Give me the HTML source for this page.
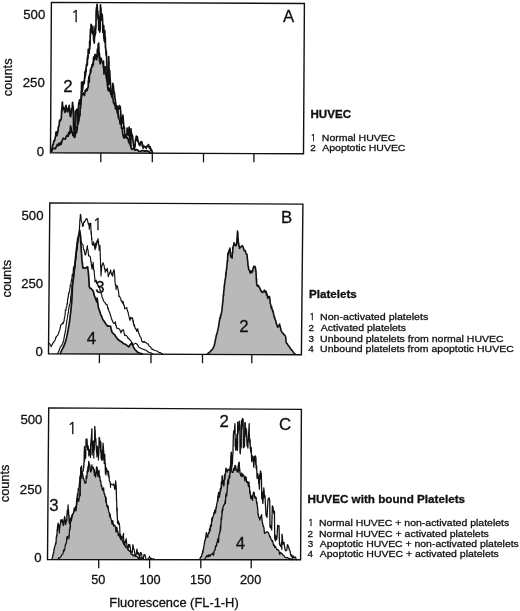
<!DOCTYPE html>
<html><head><meta charset="utf-8"><style>
html,body{margin:0;padding:0;background:#fff;}
svg{display:block;}
text{font-family:"Liberation Sans",Arial,sans-serif;fill:#111;stroke:#111;stroke-width:0.3px;}
</style></head><body>
<svg width="520" height="611" viewBox="0 0 520 611">
<path d="M51.10,151.50 L51.45,151.14 L51.80,150.24 L52.15,147.96 L52.50,146.02 L52.85,144.47 L53.20,144.33 L53.55,142.19 L53.90,140.65 L54.25,141.32 L54.60,140.18 L54.95,139.59 L55.30,136.83 L55.52,136.63 L55.74,135.26 L55.96,132.15 L56.18,133.48 L56.40,131.92 L56.90,135.66 L57.40,133.86 L57.58,132.18 L57.77,132.77 L57.95,130.17 L58.13,129.92 L58.32,126.92 L58.50,126.51 L58.77,126.62 L59.03,125.09 L59.30,123.19 L59.57,120.30 L59.83,121.55 L60.10,119.92 L60.65,120.13 L61.20,118.54 L61.28,118.74 L61.37,115.72 L61.45,114.93 L61.53,114.50 L61.62,110.38 L61.70,110.32 L61.78,108.94 L61.87,112.03 L61.95,107.24 L62.03,107.35 L62.12,106.10 L62.20,103.29 L62.42,102.09 L62.64,107.63 L62.86,106.27 L63.08,109.29 L63.30,106.85 L64.10,108.90 L64.90,112.34 L65.27,111.79 L65.63,106.21 L66.00,105.27 L66.40,108.45 L66.80,110.70 L67.20,110.65 L67.60,111.81 L67.97,108.41 L68.35,109.91 L68.72,109.65 L69.10,105.73 L69.24,105.26 L69.38,107.72 L69.51,111.59 L69.65,108.63 L69.79,112.66 L69.92,112.44 L70.06,115.12 L70.20,116.21 L70.47,115.38 L70.73,116.57 L71.00,113.55 L71.27,113.85 L71.53,110.11 L71.80,108.27 L72.17,108.89 L72.53,102.41 L72.90,106.43 L73.07,107.93 L73.23,106.67 L73.40,110.74 L73.57,110.15 L73.73,108.13 L73.90,113.05 L74.43,111.07 L74.97,111.13 L75.50,111.04 L76.03,112.69 L76.57,110.01 L77.10,109.05 L77.50,108.73 L77.90,103.82 L78.30,108.15 L78.70,102.98 L79.02,104.63 L79.34,100.73 L79.66,99.93 L79.98,99.93 L80.30,103.13 L80.85,99.81 L81.40,96.26 L81.73,95.72 L82.07,92.92 L82.40,93.93 L83.45,92.89 L84.50,95.40 L85.25,90.36 L86.00,91.34 L86.40,89.34 L86.80,88.57 L87.20,90.42 L87.60,88.25 L87.80,87.94 L88.00,87.93 L88.20,86.62 L88.40,80.16 L88.60,82.87 L88.80,76.80 L89.00,79.16 L89.20,82.19 L89.40,76.48 L89.60,74.90 L89.80,74.87 L90.03,73.46 L90.27,72.39 L90.50,69.58 L90.73,72.57 L90.97,71.07 L91.20,67.52 L91.42,67.61 L91.65,67.29 L91.88,67.05 L92.10,64.50 L92.50,66.38 L92.90,65.40 L93.01,62.31 L93.12,62.36 L93.24,64.60 L93.35,63.27 L93.46,60.09 L93.58,57.17 L93.69,57.98 L93.80,59.94 L94.07,60.39 L94.33,56.80 L94.60,59.50 L94.88,54.97 L95.15,54.47 L95.42,56.37 L95.70,54.76 L96.20,57.99 L96.70,59.69 L96.89,57.45 L97.08,57.39 L97.27,51.70 L97.46,49.06 L97.65,51.76 L97.84,55.85 L98.03,48.96 L98.22,44.03 L98.41,46.23 L98.60,47.94 L98.69,43.05 L98.78,48.80 L98.87,46.53 L98.96,52.34 L99.05,52.35 L99.15,52.39 L99.24,57.67 L99.33,53.10 L99.42,53.65 L99.51,60.88 L99.60,55.64 L100.10,63.82 L100.60,59.54 L101.10,58.19 L101.80,61.30 L102.27,62.50 L102.73,63.56 L103.20,63.56 L103.35,67.66 L103.50,61.15 L103.65,66.35 L103.80,68.21 L103.95,74.04 L104.10,66.80 L104.53,69.55 L104.97,66.85 L105.40,67.01 L105.55,71.13 L105.70,71.81 L105.85,75.27 L106.00,71.99 L106.15,75.08 L106.30,78.23 L106.53,78.76 L106.75,77.23 L106.97,81.47 L107.20,78.25 L107.30,85.06 L107.40,82.68 L107.50,83.21 L107.60,85.08 L107.70,87.33 L108.13,90.33 L108.57,87.71 L109.00,88.47 L109.45,91.27 L109.90,89.28 L110.35,88.57 L110.80,94.43 L111.27,92.96 L111.73,96.77 L112.20,93.53 L112.53,91.12 L112.85,98.28 L113.17,99.17 L113.50,102.97 L113.78,102.07 L114.06,102.77 L114.34,104.36 L114.62,103.74 L114.90,105.64 L115.20,104.28 L115.50,108.74 L115.80,107.61 L116.60,109.14 L117.40,111.99 L117.70,113.54 L118.00,111.53 L118.30,117.69 L118.60,114.64 L118.90,118.14 L119.20,119.51 L119.48,119.43 L119.76,120.43 L120.04,123.99 L120.32,123.66 L120.60,124.06 L120.92,121.85 L121.25,124.57 L121.58,128.43 L121.90,128.17 L122.10,127.74 L122.30,129.34 L122.50,130.96 L122.70,133.43 L122.90,134.18 L123.10,136.09 L123.30,135.00 L123.95,138.09 L124.60,137.21 L125.50,136.54 L126.40,138.13 L126.85,136.99 L127.30,137.64 L127.75,138.46 L128.20,139.16 L128.65,142.23 L129.10,142.89 L129.55,143.06 L130.00,143.39 L130.28,145.32 L130.56,145.29 L130.84,146.85 L131.12,147.87 L131.40,148.67 L132.13,149.41 L132.87,148.94 L133.60,148.00 L134.20,146.04 L134.80,150.12 L135.40,150.05 L136.60,149.49 L137.80,150.15 L139.00,151.27 L140.12,151.30 L141.25,151.08 L142.38,150.60 L143.50,150.52 L144.62,151.26 L145.75,150.90 L146.88,150.68 L148.00,151.09 L148.90,151.82 L149.80,152.45 L150.70,153.20 L151.60,153.30 L151.60,153.50 L51.10,153.10 Z" fill="#b9b9b9"/>
<path d="M59.90,354.10 L60.38,353.13 L60.85,352.02 L61.32,351.04 L61.80,350.01 L62.40,348.99 L63.00,347.76 L63.60,346.77 L64.05,345.59 L64.50,344.40 L64.95,343.27 L65.40,342.15 L65.68,341.07 L65.96,339.90 L66.24,338.95 L66.52,337.73 L66.80,336.30 L67.03,335.64 L67.27,334.21 L67.50,332.95 L67.73,331.87 L67.97,330.65 L68.20,329.41 L68.40,328.08 L68.60,327.06 L68.80,325.60 L69.00,324.89 L69.20,323.26 L69.40,322.25 L69.60,321.10 L69.75,319.92 L69.90,318.62 L70.05,317.54 L70.20,315.57 L70.35,314.97 L70.50,313.75 L70.63,312.51 L70.76,311.70 L70.89,310.02 L71.01,309.01 L71.14,307.43 L71.27,306.72 L71.40,305.13 L71.50,304.04 L71.60,303.78 L71.70,302.32 L71.80,301.07 L71.90,300.01 L71.95,298.37 L72.01,297.19 L72.06,296.25 L72.12,294.39 L72.17,293.67 L72.23,291.92 L72.28,291.09 L72.34,289.52 L72.39,288.94 L72.45,287.49 L72.50,285.84 L72.65,284.26 L72.79,283.31 L72.94,282.26 L73.08,280.79 L73.23,279.89 L73.38,278.84 L73.52,277.34 L73.67,276.00 L73.82,275.10 L73.96,273.58 L74.11,272.66 L74.25,271.11 L74.40,270.41 L74.51,268.65 L74.62,267.18 L74.73,266.27 L74.84,264.82 L74.95,263.49 L75.06,262.49 L75.17,261.50 L75.28,259.40 L75.39,258.79 L75.50,257.52 L75.64,256.30 L75.79,255.37 L75.93,253.51 L76.08,252.89 L76.22,251.40 L76.36,250.28 L76.51,248.96 L76.65,247.71 L76.79,246.43 L76.94,245.51 L77.08,244.83 L77.22,243.28 L77.37,242.00 L77.51,240.68 L77.66,239.13 L77.80,238.26 L78.17,237.62 L78.55,235.39 L78.92,234.97 L79.30,233.91 L79.90,232.56 L80.15,233.73 L80.40,234.93 L80.46,236.43 L80.53,237.35 L80.59,238.69 L80.65,239.48 L80.71,240.87 L80.78,241.88 L80.84,243.15 L80.90,244.13 L80.98,245.72 L81.07,247.19 L81.15,247.91 L81.23,249.26 L81.32,250.60 L81.40,251.64 L81.48,253.14 L81.57,254.16 L81.65,254.96 L81.73,256.23 L81.82,257.98 L81.90,259.17 L82.04,260.57 L82.19,261.57 L82.33,262.82 L82.47,263.56 L82.61,265.67 L82.76,266.27 L82.90,268.08 L83.80,267.64 L84.70,267.94 L85.60,268.33 L86.30,267.64 L87.00,267.03 L87.70,266.94 L87.83,268.08 L87.95,269.20 L88.08,270.20 L88.20,271.27 L88.33,272.56 L88.45,273.75 L88.58,275.09 L88.70,276.50 L88.77,277.43 L88.83,278.44 L88.90,279.67 L88.97,281.34 L89.03,282.23 L89.10,283.42 L89.17,284.61 L89.23,285.87 L89.30,286.93 L89.83,287.89 L90.37,288.50 L90.90,288.31 L91.95,289.51 L93.00,290.81 L93.27,290.86 L93.53,292.26 L93.80,293.55 L94.07,294.37 L94.33,295.74 L94.60,296.21 L95.02,297.28 L95.44,298.58 L95.86,299.52 L96.28,300.50 L96.70,301.92 L96.83,300.66 L96.97,299.40 L97.10,298.11 L97.27,299.48 L97.45,300.62 L97.62,301.72 L97.80,303.21 L97.97,304.40 L98.15,305.57 L98.33,306.92 L98.50,307.77 L98.92,309.11 L99.34,310.18 L99.76,311.68 L100.18,312.66 L100.60,314.10 L101.02,315.12 L101.44,315.87 L101.86,316.86 L102.28,318.27 L102.70,319.25 L103.42,320.32 L104.15,321.22 L104.88,322.55 L105.60,323.53 L106.30,324.50 L107.00,325.42 L107.70,326.16 L108.63,325.95 L109.57,326.26 L110.50,326.20 L110.78,327.36 L111.06,328.73 L111.34,329.71 L111.62,331.08 L111.90,332.03 L112.60,332.80 L113.30,333.47 L114.00,334.21 L114.70,334.63 L115.40,335.99 L116.10,336.91 L116.80,337.83 L117.50,339.07 L118.47,339.74 L119.43,340.54 L120.40,341.18 L121.33,341.84 L122.27,342.33 L123.20,343.37 L124.13,343.81 L125.07,344.21 L126.00,344.64 L126.93,345.44 L127.87,345.99 L128.80,346.86 L129.53,345.83 L130.25,344.76 L130.97,343.91 L131.70,342.94 L132.15,344.14 L132.60,345.14 L133.05,345.99 L133.50,347.05 L134.07,348.06 L134.63,348.92 L135.20,349.74 L136.07,350.59 L136.93,351.52 L137.80,352.35 L138.67,352.68 L139.53,353.03 L140.40,353.31 L141.27,353.58 L142.13,353.88 L143.00,354.20 L143.00,354.41 L59.90,354.05 Z" fill="#b9b9b9"/>
<path d="M207.00,354.10 L207.87,353.48 L208.73,352.99 L209.60,352.06 L210.43,351.51 L211.27,350.42 L212.10,349.54 L212.73,348.99 L213.37,347.51 L214.00,346.39 L214.25,345.51 L214.50,344.54 L214.75,343.05 L215.00,342.16 L215.25,340.48 L215.50,339.58 L215.75,338.44 L216.00,336.95 L216.27,335.76 L216.54,334.59 L216.81,334.09 L217.09,333.02 L217.36,331.85 L217.63,330.93 L217.90,329.14 L218.14,328.48 L218.38,327.37 L218.61,326.38 L218.85,324.24 L219.09,323.20 L219.33,321.00 L219.56,320.58 L219.80,318.30 L220.07,317.65 L220.34,318.07 L220.61,314.94 L220.89,315.70 L221.16,314.31 L221.43,312.80 L221.70,312.20 L221.84,310.97 L221.99,310.05 L222.13,307.91 L222.28,306.38 L222.42,305.09 L222.57,303.53 L222.71,302.92 L222.86,301.11 L223.00,301.19 L223.12,297.74 L223.24,297.03 L223.35,295.86 L223.47,293.70 L223.59,295.52 L223.71,290.87 L223.83,291.27 L223.95,289.80 L224.06,290.29 L224.18,286.05 L224.30,287.28 L224.47,284.52 L224.63,283.74 L224.80,282.03 L224.97,281.88 L225.13,279.09 L225.30,278.73 L225.47,277.84 L225.63,277.89 L225.80,272.86 L225.94,275.22 L226.08,273.56 L226.21,271.11 L226.35,270.68 L226.49,268.82 L226.62,269.63 L226.76,267.15 L226.90,265.60 L227.03,264.32 L227.17,263.08 L227.30,261.83 L227.43,259.88 L227.57,261.47 L227.70,256.32 L227.83,253.37 L227.97,255.54 L228.10,254.25 L228.38,253.62 L228.65,251.89 L228.92,250.80 L229.20,250.14 L229.60,250.19 L230.00,248.14 L230.11,249.37 L230.22,252.88 L230.34,252.59 L230.45,252.21 L230.56,256.68 L230.68,256.27 L230.79,256.07 L230.90,256.65 L232.10,258.09 L232.21,255.72 L232.32,254.23 L232.43,252.72 L232.54,252.25 L232.65,252.62 L232.76,249.80 L232.87,247.49 L232.98,248.41 L233.09,246.53 L233.20,246.08 L233.65,245.31 L234.10,242.72 L234.50,243.88 L234.90,245.12 L235.30,245.12 L235.77,245.87 L236.23,245.48 L236.70,243.08 L236.80,241.38 L236.90,240.09 L237.00,238.26 L237.10,236.96 L237.20,236.13 L237.30,234.38 L237.40,233.55 L237.50,231.03 L237.60,231.89 L237.69,232.82 L237.78,232.77 L237.87,232.79 L237.96,236.56 L238.04,239.03 L238.13,238.31 L238.22,239.85 L238.31,241.03 L238.40,243.59 L238.68,243.09 L238.95,246.23 L239.22,246.03 L239.50,248.46 L240.35,247.23 L241.20,246.66 L242.10,245.67 L243.00,246.79 L243.55,248.38 L244.10,250.48 L244.67,250.82 L245.23,250.63 L245.80,252.51 L246.40,254.24 L247.00,254.25 L247.11,255.10 L247.22,256.29 L247.34,258.61 L247.45,259.48 L247.56,259.18 L247.68,261.59 L247.79,261.90 L247.90,262.78 L248.06,265.84 L248.22,266.59 L248.38,266.30 L248.54,268.21 L248.70,269.76 L249.27,269.85 L249.83,271.46 L250.40,273.30 L251.25,270.78 L252.10,272.40 L252.44,271.76 L252.78,270.52 L253.12,267.80 L253.46,268.32 L253.80,266.19 L254.40,266.94 L255.00,266.37 L255.20,267.22 L255.40,267.53 L255.60,268.91 L255.80,271.46 L256.00,271.08 L256.07,273.57 L256.15,274.81 L256.22,275.33 L256.29,278.92 L256.36,278.10 L256.44,281.13 L256.51,278.76 L256.58,279.80 L256.65,283.78 L256.73,284.71 L256.80,285.14 L257.65,286.16 L258.50,285.44 L259.12,287.34 L259.75,287.86 L260.38,289.37 L261.00,291.11 L261.57,291.28 L262.13,292.36 L262.70,292.35 L263.27,291.72 L263.83,291.32 L264.40,290.17 L265.25,292.26 L266.10,291.41 L266.44,294.60 L266.78,293.38 L267.12,295.98 L267.46,295.59 L267.80,298.45 L268.65,296.85 L269.50,296.60 L269.63,298.13 L269.77,298.36 L269.90,299.33 L270.03,299.89 L270.17,303.51 L270.30,303.40 L270.64,304.50 L270.98,305.92 L271.32,308.33 L271.66,306.80 L272.00,309.17 L272.34,309.74 L272.68,311.35 L273.02,310.82 L273.36,312.74 L273.70,314.54 L273.98,316.11 L274.27,317.26 L274.55,316.88 L274.83,318.57 L275.12,319.60 L275.40,320.00 L275.82,321.09 L276.23,323.46 L276.65,324.29 L277.07,325.19 L277.48,327.03 L277.90,326.98 L278.47,326.65 L279.03,325.24 L279.60,324.07 L279.88,325.50 L280.17,326.46 L280.45,327.64 L280.73,328.77 L281.02,330.73 L281.30,330.75 L281.93,332.24 L282.55,332.89 L283.18,333.29 L283.80,334.66 L284.65,334.77 L285.50,336.50 L285.63,336.78 L285.77,338.03 L285.90,339.48 L286.03,340.78 L286.17,341.91 L286.30,343.01 L286.93,343.48 L287.55,344.09 L288.18,345.42 L288.80,346.19 L289.37,346.67 L289.93,348.02 L290.50,348.65 L291.15,349.23 L291.80,350.39 L292.45,350.90 L293.10,351.85 L293.93,352.99 L294.77,353.72 L295.60,354.80 L295.60,355.07 L207.00,354.69 Z" fill="#b9b9b9"/>
<path d="M52.00,559.50 L52.23,558.35 L52.47,557.48 L52.70,555.60 L52.93,555.15 L53.17,554.54 L53.40,552.90 L53.69,552.90 L53.97,549.28 L54.26,549.10 L54.54,547.11 L54.83,545.85 L55.11,545.35 L55.40,544.65 L55.59,543.75 L55.77,542.72 L55.96,543.66 L56.14,540.88 L56.33,536.71 L56.51,537.80 L56.70,535.61 L56.82,534.62 L56.93,535.87 L57.05,532.76 L57.17,529.33 L57.28,531.24 L57.40,529.30 L57.52,526.96 L57.63,526.18 L57.75,525.47 L57.87,525.20 L57.98,523.51 L58.10,523.10 L58.29,526.77 L58.47,524.15 L58.66,525.29 L58.84,527.22 L59.03,530.22 L59.21,528.89 L59.40,532.93 L59.56,528.03 L59.71,527.20 L59.87,527.36 L60.02,525.03 L60.18,524.18 L60.33,524.51 L60.49,523.73 L60.64,521.66 L60.80,519.89 L61.45,521.60 L62.10,519.50 L62.32,519.67 L62.53,522.92 L62.75,520.94 L62.97,523.60 L63.18,525.43 L63.40,525.58 L63.57,523.60 L63.75,523.76 L63.92,521.29 L64.10,520.02 L64.27,518.21 L64.45,520.50 L64.62,516.55 L64.80,517.96 L64.89,517.93 L64.97,518.12 L65.06,520.66 L65.14,521.23 L65.23,522.18 L65.31,521.16 L65.40,524.40 L65.63,524.47 L65.87,522.78 L66.10,522.41 L66.33,522.04 L66.57,519.33 L66.80,520.58 L66.96,514.13 L67.12,514.88 L67.29,510.18 L67.45,514.18 L67.61,511.87 L67.77,513.22 L67.94,508.79 L68.10,504.95 L68.22,511.47 L68.33,508.55 L68.45,509.91 L68.57,512.86 L68.68,515.33 L68.80,514.82 L68.92,517.12 L69.03,515.24 L69.15,521.87 L69.27,520.43 L69.38,521.94 L69.50,523.85 L69.76,522.17 L70.02,521.13 L70.28,518.38 L70.54,518.51 L70.80,518.26 L71.30,518.18 L71.80,515.42 L72.30,514.74 L72.80,514.12 L73.30,513.47 L73.80,511.87 L74.30,510.13 L74.80,508.69 L75.08,510.24 L75.36,507.86 L75.64,506.35 L75.92,510.93 L76.20,505.65 L76.38,504.58 L76.55,502.40 L76.73,499.43 L76.90,502.01 L77.00,498.83 L77.10,497.96 L77.20,498.51 L77.30,497.38 L77.40,494.93 L77.50,493.43 L77.78,496.01 L78.06,492.29 L78.34,488.41 L78.62,490.49 L78.90,488.37 L79.02,486.97 L79.14,486.95 L79.25,484.95 L79.37,486.99 L79.49,482.52 L79.61,481.42 L79.73,481.91 L79.85,477.52 L79.96,479.28 L80.08,476.08 L80.20,477.23 L81.05,473.40 L81.90,475.79 L82.48,473.15 L83.05,476.47 L83.62,478.48 L84.20,480.52 L85.05,483.25 L85.90,483.00 L86.18,475.96 L86.45,475.88 L86.72,478.50 L87.00,475.83 L87.20,471.26 L87.40,473.62 L87.60,469.40 L87.80,468.75 L88.00,466.82 L88.20,467.60 L88.30,471.34 L88.40,466.56 L88.50,464.47 L88.60,468.50 L88.70,461.49 L89.10,463.24 L89.50,464.15 L89.90,466.62 L90.08,466.35 L90.27,470.92 L90.45,468.69 L90.63,471.48 L90.82,471.98 L91.00,471.07 L91.30,469.69 L91.60,470.30 L91.90,464.83 L92.20,468.13 L92.75,467.70 L93.30,467.28 L93.50,467.99 L93.70,469.95 L93.90,469.73 L94.10,472.76 L94.30,469.57 L94.50,475.53 L95.05,473.29 L95.60,477.01 L95.75,474.09 L95.90,473.02 L96.05,471.18 L96.20,474.11 L96.35,468.33 L96.50,466.95 L96.65,468.56 L96.80,467.51 L96.96,468.23 L97.11,467.43 L97.27,469.18 L97.43,473.30 L97.59,470.76 L97.74,475.01 L97.90,476.37 L98.50,474.10 L99.10,470.40 L99.26,477.45 L99.41,475.22 L99.57,476.50 L99.73,476.57 L99.89,476.66 L100.04,479.07 L100.20,481.07 L100.57,480.29 L100.93,483.18 L101.30,486.19 L101.53,485.76 L101.77,485.66 L102.00,488.58 L102.40,489.42 L102.80,490.46 L103.20,488.54 L103.60,487.84 L104.00,493.49 L104.30,493.35 L104.60,493.75 L104.90,496.36 L105.20,495.91 L105.50,496.77 L105.80,502.00 L106.10,497.44 L106.35,502.67 L106.60,504.13 L106.85,506.54 L107.10,505.22 L107.35,506.80 L107.60,505.68 L107.85,508.38 L108.10,506.17 L108.43,509.73 L108.77,511.69 L109.10,512.69 L109.43,513.23 L109.77,516.86 L110.10,513.80 L110.42,517.43 L110.75,517.66 L111.08,519.33 L111.40,520.38 L112.07,524.04 L112.73,520.55 L113.40,524.93 L113.80,526.07 L114.20,524.94 L114.60,525.32 L115.00,525.52 L115.40,527.12 L116.10,531.99 L116.80,527.17 L117.50,531.61 L117.90,531.16 L118.30,535.65 L118.70,534.65 L119.10,533.59 L119.50,535.74 L120.17,537.55 L120.83,538.36 L121.50,537.94 L122.04,539.82 L122.58,540.67 L123.12,542.85 L123.66,543.66 L124.20,544.66 L124.88,544.77 L125.55,547.32 L126.23,546.87 L126.90,547.62 L127.72,549.05 L128.55,550.17 L129.38,551.20 L130.20,550.63 L131.20,554.46 L132.20,554.43 L133.20,555.73 L134.20,554.85 L135.22,556.36 L136.25,556.37 L137.28,556.72 L138.30,558.45 L139.36,557.32 L140.42,558.39 L141.48,557.98 L142.54,559.16 L143.60,559.50 L143.60,559.91 L52.00,559.81 Z" fill="#b9b9b9"/>
<path d="M199.70,559.50 L200.32,557.93 L200.95,556.53 L201.57,556.64 L202.20,553.16 L202.43,553.69 L202.66,550.66 L202.89,552.44 L203.11,550.45 L203.34,550.37 L203.57,547.39 L203.80,547.10 L204.04,545.21 L204.29,543.53 L204.53,543.26 L204.77,540.53 L205.01,540.31 L205.26,540.29 L205.50,538.37 L205.70,536.57 L205.90,538.39 L206.10,534.62 L206.30,532.58 L206.60,534.63 L206.90,534.95 L207.20,536.25 L207.52,535.28 L207.84,537.13 L208.16,533.73 L208.48,532.92 L208.80,532.54 L209.14,533.23 L209.48,529.42 L209.82,527.90 L210.16,530.90 L210.50,524.80 L210.78,525.10 L211.07,525.35 L211.35,526.42 L211.63,520.94 L211.92,517.79 L212.20,520.91 L212.47,518.17 L212.73,517.26 L213.00,517.35 L213.28,515.90 L213.57,514.89 L213.85,512.72 L214.13,514.12 L214.42,513.34 L214.70,510.05 L215.10,510.18 L215.50,512.78 L215.70,511.16 L215.90,507.64 L216.10,507.26 L216.30,508.29 L216.54,505.35 L216.79,503.79 L217.03,503.43 L217.27,501.85 L217.51,500.70 L217.76,496.44 L218.00,501.09 L218.11,497.43 L218.23,494.51 L218.34,496.34 L218.46,494.06 L218.57,492.40 L218.69,492.92 L218.80,493.77 L219.03,492.17 L219.25,495.11 L219.47,497.28 L219.70,493.34 L219.90,492.89 L220.10,493.78 L220.30,488.42 L220.50,489.55 L220.70,490.92 L220.90,489.26 L221.10,487.24 L221.30,481.76 L221.45,487.92 L221.60,483.72 L221.75,482.98 L221.90,481.40 L222.05,476.41 L222.20,475.77 L222.47,477.28 L222.73,483.88 L223.00,480.21 L223.27,482.35 L223.53,483.45 L223.80,485.98 L223.97,484.69 L224.14,483.12 L224.31,479.30 L224.48,474.84 L224.65,479.44 L224.82,478.45 L224.99,478.99 L225.16,475.46 L225.33,473.37 L225.50,474.04 L225.70,469.36 L225.90,469.16 L226.10,468.09 L226.30,469.33 L227.15,472.10 L228.00,469.11 L228.85,470.35 L229.70,469.24 L230.10,468.18 L230.50,465.70 L230.90,464.88 L231.12,462.04 L231.34,465.46 L231.56,466.46 L231.78,471.49 L232.00,472.31 L232.57,472.42 L233.13,472.41 L233.70,468.24 L234.10,469.61 L234.50,470.15 L234.90,465.38 L235.18,468.56 L235.45,467.40 L235.72,465.89 L236.00,470.22 L236.60,469.27 L237.20,471.73 L237.80,471.46 L237.94,471.59 L238.08,465.82 L238.21,472.27 L238.35,469.66 L238.49,465.21 L238.62,462.88 L238.76,463.29 L238.90,463.27 L239.01,464.05 L239.12,465.27 L239.23,462.12 L239.34,464.95 L239.45,470.77 L239.56,470.00 L239.67,468.05 L239.78,470.51 L239.89,470.73 L240.00,472.77 L240.90,476.12 L241.80,473.00 L242.20,476.63 L242.60,476.14 L243.00,474.30 L244.00,475.79 L245.00,481.02 L245.57,476.68 L246.15,477.33 L246.73,482.54 L247.30,481.66 L247.87,482.62 L248.43,486.33 L249.00,481.83 L249.15,486.91 L249.30,485.66 L249.45,486.36 L249.60,488.67 L249.75,493.28 L249.90,492.39 L250.05,490.85 L250.20,493.36 L250.77,498.48 L251.33,498.42 L251.90,495.71 L252.47,500.35 L253.05,494.59 L253.62,492.06 L254.20,492.67 L254.54,495.60 L254.88,497.85 L255.22,498.02 L255.56,496.76 L255.90,497.68 L256.12,497.40 L256.34,500.80 L256.56,501.13 L256.78,503.63 L257.00,502.40 L257.13,504.86 L257.27,505.57 L257.40,506.35 L257.53,507.66 L257.67,509.19 L257.80,510.22 L257.93,514.11 L258.07,514.68 L258.20,513.87 L258.77,517.31 L259.33,517.75 L259.90,520.20 L260.47,517.05 L261.03,516.26 L261.60,514.79 L261.75,517.13 L261.90,518.81 L262.05,519.50 L262.20,520.04 L262.35,522.34 L262.50,522.83 L262.65,524.19 L262.80,523.73 L263.14,526.42 L263.48,525.96 L263.82,527.31 L264.16,529.77 L264.50,533.40 L265.65,532.57 L266.80,531.91 L267.95,532.22 L269.10,534.24 L269.44,535.85 L269.78,536.77 L270.12,536.20 L270.46,537.78 L270.80,538.31 L271.15,539.32 L271.50,539.63 L272.00,541.45 L272.50,540.50 L273.00,542.70 L273.57,545.38 L274.15,544.88 L274.73,547.33 L275.30,546.39 L276.20,548.27 L277.10,549.95 L278.00,549.52 L278.85,550.66 L279.70,554.39 L280.55,552.37 L281.40,553.19 L282.30,553.99 L283.20,555.18 L284.10,555.80 L285.00,557.26 L286.12,557.65 L287.25,557.47 L288.38,558.15 L289.50,558.50 L290.67,558.89 L291.83,559.41 L293.00,559.80 L293.00,560.09 L199.70,559.98 Z" fill="#b9b9b9"/>
<path d="M51.10,151.50 L51.45,151.14 L51.80,150.24 L52.15,147.96 L52.50,146.02 L52.85,144.47 L53.20,144.33 L53.55,142.19 L53.90,140.65 L54.25,141.32 L54.60,140.18 L54.95,139.59 L55.30,136.83 L55.52,136.63 L55.74,135.26 L55.96,132.15 L56.18,133.48 L56.40,131.92 L56.90,135.66 L57.40,133.86 L57.58,132.18 L57.77,132.77 L57.95,130.17 L58.13,129.92 L58.32,126.92 L58.50,126.51 L58.77,126.62 L59.03,125.09 L59.30,123.19 L59.57,120.30 L59.83,121.55 L60.10,119.92 L60.65,120.13 L61.20,118.54 L61.28,118.74 L61.37,115.72 L61.45,114.93 L61.53,114.50 L61.62,110.38 L61.70,110.32 L61.78,108.94 L61.87,112.03 L61.95,107.24 L62.03,107.35 L62.12,106.10 L62.20,103.29 L62.42,102.09 L62.64,107.63 L62.86,106.27 L63.08,109.29 L63.30,106.85 L64.10,108.90 L64.90,112.34 L65.27,111.79 L65.63,106.21 L66.00,105.27 L66.40,108.45 L66.80,110.70 L67.20,110.65 L67.60,111.81 L67.97,108.41 L68.35,109.91 L68.72,109.65 L69.10,105.73 L69.24,105.26 L69.38,107.72 L69.51,111.59 L69.65,108.63 L69.79,112.66 L69.92,112.44 L70.06,115.12 L70.20,116.21 L70.47,115.38 L70.73,116.57 L71.00,113.55 L71.27,113.85 L71.53,110.11 L71.80,108.27 L72.17,108.89 L72.53,102.41 L72.90,106.43 L73.07,107.93 L73.23,106.67 L73.40,110.74 L73.57,129.60 L73.73,128.21 L73.90,129.54 L74.43,132.16 L74.97,133.29 L75.50,111.04 L76.03,112.69 L76.57,110.01 L77.10,109.05 L77.50,124.50 L77.90,118.38 L78.30,120.93 L78.70,102.98 L79.02,104.63 L79.34,100.73 L79.66,99.93 L79.98,99.93 L80.30,103.13 L80.85,102.26 L81.40,97.23 L81.73,96.45 L82.07,93.55 L82.40,94.92 L83.45,92.89 L84.50,95.40 L85.25,90.36 L86.00,91.34 L86.40,89.34 L86.80,88.57 L87.20,90.42 L87.60,88.25 L87.80,87.94 L88.00,87.93 L88.20,86.62 L88.40,80.16 L88.60,82.87 L88.80,76.80 L89.00,79.16 L89.20,82.19 L89.40,76.48 L89.60,74.90 L89.80,74.87 L90.03,73.46 L90.27,72.39 L90.50,69.58 L90.73,72.57 L90.97,71.07 L91.20,67.52 L91.42,67.61 L91.65,67.29 L91.88,67.05 L92.10,64.50 L92.50,66.38 L92.90,65.40 L93.01,62.31 L93.12,62.36 L93.24,64.60 L93.35,63.27 L93.46,60.09 L93.58,57.17 L93.69,57.98 L93.80,59.94 L94.07,60.39 L94.33,56.80 L94.60,59.50 L94.88,54.97 L95.15,54.47 L95.42,56.37 L95.70,54.76 L96.20,57.99 L96.70,59.69 L96.89,57.45 L97.08,57.39 L97.27,51.70 L97.46,49.06 L97.65,51.76 L97.84,55.85 L98.03,48.96 L98.22,44.03 L98.41,46.23 L98.60,47.94 L98.69,43.05 L98.78,48.80 L98.87,46.53 L98.96,52.34 L99.05,52.35 L99.15,52.39 L99.24,57.67 L99.33,53.10 L99.42,53.65 L99.51,60.88 L99.60,55.64 L100.10,63.82 L100.60,59.54 L101.10,58.19 L101.80,61.30 L102.27,62.50 L102.73,63.56 L103.20,63.56 L103.35,67.66 L103.50,61.15 L103.65,66.35 L103.80,68.21 L103.95,74.04 L104.10,66.80 L104.53,69.55 L104.97,66.85 L105.40,67.01 L105.55,71.13 L105.70,71.81 L105.85,75.27 L106.00,71.99 L106.15,75.08 L106.30,78.23 L106.53,78.76 L106.75,77.23 L106.97,81.47 L107.20,78.25 L107.30,85.06 L107.40,82.68 L107.50,83.21 L107.60,85.08 L107.70,87.33 L108.13,90.33 L108.57,87.71 L109.00,88.47 L109.45,91.27 L109.90,89.28 L110.35,88.57 L110.80,94.43 L111.27,92.96 L111.73,96.77 L112.20,93.53 L112.53,91.12 L112.85,98.28 L113.17,99.17 L113.50,102.97 L113.78,102.07 L114.06,102.77 L114.34,104.36 L114.62,103.74 L114.90,105.64 L115.20,104.28 L115.50,108.74 L115.80,107.61 L116.60,109.14 L117.40,111.99 L117.70,113.54 L118.00,111.53 L118.30,117.69 L118.60,114.64 L118.90,118.14 L119.20,119.51 L119.48,119.43 L119.76,120.43 L120.04,123.99 L120.32,123.66 L120.60,124.06 L120.92,121.85 L121.25,124.57 L121.58,128.43 L121.90,128.17 L122.10,127.74 L122.30,129.34 L122.50,130.96 L122.70,133.43 L122.90,134.18 L123.10,136.09 L123.30,135.00 L123.95,138.09 L124.60,137.21 L125.50,136.54 L126.40,138.13 L126.85,136.99 L127.30,137.64 L127.75,138.46 L128.20,139.16 L128.65,142.23 L129.10,142.89 L129.55,143.06 L130.00,143.39 L130.28,145.32 L130.56,145.29 L130.84,146.85 L131.12,147.87 L131.40,148.67 L132.13,149.41 L132.87,148.94 L133.60,148.00 L134.20,146.04 L134.80,150.12 L135.40,150.05 L136.60,149.49 L137.80,150.15 L139.00,151.27 L140.12,151.30 L141.25,151.08 L142.38,150.60 L143.50,150.52 L144.62,151.26 L145.75,150.90 L146.88,150.68 L148.00,151.09 L148.90,151.82 L149.80,152.45 L150.70,153.20 L151.60,153.30" fill="none" stroke="#111" stroke-width="1.7" stroke-linejoin="round"/>
<path d="M59.90,354.10 L60.38,353.13 L60.85,352.02 L61.32,351.04 L61.80,350.01 L62.40,348.99 L63.00,347.76 L63.60,346.77 L64.05,345.59 L64.50,344.40 L64.95,343.27 L65.40,342.15 L65.68,341.07 L65.96,339.90 L66.24,338.95 L66.52,337.73 L66.80,336.30 L67.03,335.64 L67.27,334.21 L67.50,332.95 L67.73,331.87 L67.97,330.65 L68.20,329.41 L68.40,328.08 L68.60,327.06 L68.80,325.60 L69.00,324.89 L69.20,323.26 L69.40,322.25 L69.60,321.10 L69.75,319.92 L69.90,318.62 L70.05,317.54 L70.20,315.57 L70.35,314.97 L70.50,313.75 L70.63,312.51 L70.76,311.70 L70.89,310.02 L71.01,309.01 L71.14,307.43 L71.27,306.72 L71.40,305.13 L71.50,304.04 L71.60,303.78 L71.70,302.32 L71.80,301.07 L71.90,300.01 L71.95,298.37 L72.01,297.19 L72.06,296.25 L72.12,294.39 L72.17,293.67 L72.23,291.92 L72.28,291.09 L72.34,289.52 L72.39,288.94 L72.45,287.49 L72.50,285.84 L72.65,284.26 L72.79,283.31 L72.94,282.26 L73.08,280.79 L73.23,279.89 L73.38,278.84 L73.52,277.34 L73.67,276.00 L73.82,275.10 L73.96,273.58 L74.11,272.66 L74.25,271.11 L74.40,270.41 L74.51,268.65 L74.62,267.18 L74.73,266.27 L74.84,264.82 L74.95,263.49 L75.06,262.49 L75.17,261.50 L75.28,259.40 L75.39,258.79 L75.50,257.52 L75.64,256.30 L75.79,255.37 L75.93,253.51 L76.08,252.89 L76.22,251.40 L76.36,250.28 L76.51,248.96 L76.65,247.71 L76.79,246.43 L76.94,245.51 L77.08,244.83 L77.22,243.28 L77.37,242.00 L77.51,240.68 L77.66,239.13 L77.80,238.26 L78.17,237.62 L78.55,235.39 L78.92,234.97 L79.30,233.91 L79.90,232.56 L80.15,233.73 L80.40,234.93 L80.46,236.43 L80.53,237.35 L80.59,238.69 L80.65,239.48 L80.71,240.87 L80.78,241.88 L80.84,243.15 L80.90,244.13 L80.98,245.72 L81.07,247.19 L81.15,247.91 L81.23,249.26 L81.32,250.60 L81.40,251.64 L81.48,253.14 L81.57,254.16 L81.65,254.96 L81.73,256.23 L81.82,257.98 L81.90,259.17 L82.04,260.57 L82.19,261.57 L82.33,262.82 L82.47,263.56 L82.61,265.67 L82.76,266.27 L82.90,268.08 L83.80,267.64 L84.70,267.94 L85.60,268.33 L86.30,267.64 L87.00,267.03 L87.70,266.94 L87.83,268.08 L87.95,269.20 L88.08,270.20 L88.20,271.27 L88.33,272.56 L88.45,273.75 L88.58,275.09 L88.70,276.50 L88.77,277.43 L88.83,278.44 L88.90,279.67 L88.97,281.34 L89.03,282.23 L89.10,283.42 L89.17,284.61 L89.23,285.87 L89.30,286.93 L89.83,287.89 L90.37,288.50 L90.90,288.31 L91.95,289.51 L93.00,290.81 L93.27,290.86 L93.53,292.26 L93.80,293.55 L94.07,294.37 L94.33,295.74 L94.60,296.21 L95.02,297.28 L95.44,298.58 L95.86,299.52 L96.28,300.50 L96.70,301.92 L96.83,300.66 L96.97,299.40 L97.10,298.11 L97.27,299.48 L97.45,300.62 L97.62,301.72 L97.80,303.21 L97.97,304.40 L98.15,305.57 L98.33,306.92 L98.50,307.77 L98.92,309.11 L99.34,310.18 L99.76,311.68 L100.18,312.66 L100.60,314.10 L101.02,315.12 L101.44,315.87 L101.86,316.86 L102.28,318.27 L102.70,319.25 L103.42,320.32 L104.15,321.22 L104.88,322.55 L105.60,323.53 L106.30,324.50 L107.00,325.42 L107.70,326.16 L108.63,325.95 L109.57,326.26 L110.50,326.20 L110.78,327.36 L111.06,328.73 L111.34,329.71 L111.62,331.08 L111.90,332.03 L112.60,332.80 L113.30,333.47 L114.00,334.21 L114.70,334.63 L115.40,335.99 L116.10,336.91 L116.80,337.83 L117.50,339.07 L118.47,339.74 L119.43,340.54 L120.40,341.18 L121.33,341.84 L122.27,342.33 L123.20,343.37 L124.13,343.81 L125.07,344.21 L126.00,344.64 L126.93,345.44 L127.87,345.99 L128.80,346.86 L129.53,345.83 L130.25,344.76 L130.97,343.91 L131.70,342.94 L132.15,344.14 L132.60,345.14 L133.05,345.99 L133.50,347.05 L134.07,348.06 L134.63,348.92 L135.20,349.74 L136.07,350.59 L136.93,351.52 L137.80,352.35 L138.67,352.68 L139.53,353.03 L140.40,353.31 L141.27,353.58 L142.13,353.88 L143.00,354.20" fill="none" stroke="#111" stroke-width="1.7" stroke-linejoin="round"/>
<path d="M207.00,354.10 L207.87,353.48 L208.73,352.99 L209.60,352.06 L210.43,351.51 L211.27,350.42 L212.10,349.54 L212.73,348.99 L213.37,347.51 L214.00,346.39 L214.25,345.51 L214.50,344.54 L214.75,343.05 L215.00,342.16 L215.25,340.48 L215.50,339.58 L215.75,338.44 L216.00,336.95 L216.27,335.76 L216.54,334.59 L216.81,334.09 L217.09,333.02 L217.36,331.85 L217.63,330.93 L217.90,329.14 L218.14,328.48 L218.38,327.37 L218.61,326.38 L218.85,324.24 L219.09,323.20 L219.33,321.00 L219.56,320.58 L219.80,318.30 L220.07,317.65 L220.34,318.07 L220.61,314.94 L220.89,315.70 L221.16,314.31 L221.43,312.80 L221.70,312.20 L221.84,310.97 L221.99,310.05 L222.13,307.91 L222.28,306.38 L222.42,305.09 L222.57,303.53 L222.71,302.92 L222.86,301.11 L223.00,301.19 L223.12,297.74 L223.24,297.03 L223.35,295.86 L223.47,293.70 L223.59,295.52 L223.71,290.87 L223.83,291.27 L223.95,289.80 L224.06,290.29 L224.18,286.05 L224.30,287.28 L224.47,284.52 L224.63,283.74 L224.80,282.03 L224.97,281.88 L225.13,279.09 L225.30,278.73 L225.47,277.84 L225.63,277.89 L225.80,272.86 L225.94,275.22 L226.08,273.56 L226.21,271.11 L226.35,270.68 L226.49,268.82 L226.62,269.63 L226.76,267.15 L226.90,265.60 L227.03,264.32 L227.17,263.08 L227.30,261.83 L227.43,259.88 L227.57,261.47 L227.70,256.32 L227.83,253.37 L227.97,255.54 L228.10,254.25 L228.38,253.62 L228.65,251.89 L228.92,250.80 L229.20,250.14 L229.60,250.19 L230.00,248.14 L230.11,249.37 L230.22,252.88 L230.34,252.59 L230.45,252.21 L230.56,256.68 L230.68,256.27 L230.79,256.07 L230.90,256.65 L232.10,258.09 L232.21,255.72 L232.32,254.23 L232.43,252.72 L232.54,252.25 L232.65,252.62 L232.76,249.80 L232.87,247.49 L232.98,248.41 L233.09,246.53 L233.20,246.08 L233.65,245.31 L234.10,242.72 L234.50,243.88 L234.90,245.12 L235.30,245.12 L235.77,245.87 L236.23,245.48 L236.70,243.08 L236.80,241.38 L236.90,240.09 L237.00,238.26 L237.10,236.96 L237.20,236.13 L237.30,234.38 L237.40,233.55 L237.50,231.03 L237.60,231.89 L237.69,232.82 L237.78,232.77 L237.87,232.79 L237.96,236.56 L238.04,239.03 L238.13,238.31 L238.22,239.85 L238.31,241.03 L238.40,243.59 L238.68,243.09 L238.95,246.23 L239.22,246.03 L239.50,248.46 L240.35,247.23 L241.20,246.66 L242.10,245.67 L243.00,246.79 L243.55,248.38 L244.10,250.48 L244.67,250.82 L245.23,250.63 L245.80,252.51 L246.40,254.24 L247.00,254.25 L247.11,255.10 L247.22,256.29 L247.34,258.61 L247.45,259.48 L247.56,259.18 L247.68,261.59 L247.79,261.90 L247.90,262.78 L248.06,265.84 L248.22,266.59 L248.38,266.30 L248.54,268.21 L248.70,269.76 L249.27,269.85 L249.83,271.46 L250.40,273.30 L251.25,270.78 L252.10,272.40 L252.44,271.76 L252.78,270.52 L253.12,267.80 L253.46,268.32 L253.80,266.19 L254.40,266.94 L255.00,266.37 L255.20,267.22 L255.40,267.53 L255.60,268.91 L255.80,271.46 L256.00,271.08 L256.07,273.57 L256.15,274.81 L256.22,275.33 L256.29,278.92 L256.36,278.10 L256.44,281.13 L256.51,278.76 L256.58,279.80 L256.65,283.78 L256.73,284.71 L256.80,285.14 L257.65,286.16 L258.50,285.44 L259.12,287.34 L259.75,287.86 L260.38,289.37 L261.00,291.11 L261.57,291.28 L262.13,292.36 L262.70,292.35 L263.27,291.72 L263.83,291.32 L264.40,290.17 L265.25,292.26 L266.10,291.41 L266.44,294.60 L266.78,293.38 L267.12,295.98 L267.46,295.59 L267.80,298.45 L268.65,296.85 L269.50,296.60 L269.63,298.13 L269.77,298.36 L269.90,299.33 L270.03,299.89 L270.17,303.51 L270.30,303.40 L270.64,304.50 L270.98,305.92 L271.32,308.33 L271.66,306.80 L272.00,309.17 L272.34,309.74 L272.68,311.35 L273.02,310.82 L273.36,312.74 L273.70,314.54 L273.98,316.11 L274.27,317.26 L274.55,316.88 L274.83,318.57 L275.12,319.60 L275.40,320.00 L275.82,321.09 L276.23,323.46 L276.65,324.29 L277.07,325.19 L277.48,327.03 L277.90,326.98 L278.47,326.65 L279.03,325.24 L279.60,324.07 L279.88,325.50 L280.17,326.46 L280.45,327.64 L280.73,328.77 L281.02,330.73 L281.30,330.75 L281.93,332.24 L282.55,332.89 L283.18,333.29 L283.80,334.66 L284.65,334.77 L285.50,336.50 L285.63,336.78 L285.77,338.03 L285.90,339.48 L286.03,340.78 L286.17,341.91 L286.30,343.01 L286.93,343.48 L287.55,344.09 L288.18,345.42 L288.80,346.19 L289.37,346.67 L289.93,348.02 L290.50,348.65 L291.15,349.23 L291.80,350.39 L292.45,350.90 L293.10,351.85 L293.93,352.99 L294.77,353.72 L295.60,354.80" fill="none" stroke="#111" stroke-width="1.6" stroke-linejoin="round"/>
<path d="M52.00,559.50 L52.23,558.35 L52.47,557.48 L52.70,555.60 L52.93,555.15 L53.17,554.54 L53.40,552.90 L53.69,552.90 L53.97,549.28 L54.26,549.10 L54.54,547.11 L54.83,545.85 L55.11,545.35 L55.40,544.65 L55.59,543.75 L55.77,542.72 L55.96,543.66 L56.14,540.88 L56.33,536.71 L56.51,537.80 L56.70,535.61 L56.82,534.62 L56.93,535.87 L57.05,532.76 L57.17,529.33 L57.28,531.24 L57.40,529.30 L57.52,526.96 L57.63,526.18 L57.75,525.47 L57.87,525.20 L57.98,523.51 L58.10,523.10 L58.29,526.77 L58.47,524.15 L58.66,525.29 L58.84,527.22 L59.03,530.22 L59.21,528.89 L59.40,532.93 L59.56,528.03 L59.71,527.20 L59.87,527.36 L60.02,525.03 L60.18,524.18 L60.33,524.51 L60.49,523.73 L60.64,521.66 L60.80,519.89 L61.45,521.60 L62.10,519.50 L62.32,519.67 L62.53,522.92 L62.75,520.94 L62.97,523.60 L63.18,525.43 L63.40,525.58 L63.57,523.60 L63.75,523.76 L63.92,521.29 L64.10,520.02 L64.27,518.21 L64.45,520.50 L64.62,516.55 L64.80,517.96 L64.89,517.93 L64.97,518.12 L65.06,520.66 L65.14,521.23 L65.23,522.18 L65.31,521.16 L65.40,524.40 L65.63,524.47 L65.87,522.78 L66.10,522.41 L66.33,522.04 L66.57,519.33 L66.80,520.58 L66.96,514.13 L67.12,514.88 L67.29,510.18 L67.45,514.18 L67.61,511.87 L67.77,513.22 L67.94,508.79 L68.10,504.95 L68.22,511.47 L68.33,508.55 L68.45,509.91 L68.57,512.86 L68.68,515.33 L68.80,514.82 L68.92,517.12 L69.03,515.24 L69.15,521.87 L69.27,520.43 L69.38,521.94 L69.50,523.85 L69.76,522.17 L70.02,521.13 L70.28,518.38 L70.54,518.51 L70.80,518.26 L71.30,518.18 L71.80,515.42 L72.30,514.74 L72.80,514.12 L73.30,513.47 L73.80,511.87 L74.30,510.13 L74.80,508.69 L75.08,510.24 L75.36,507.86 L75.64,506.35 L75.92,510.93 L76.20,505.65 L76.38,504.58 L76.55,502.40 L76.73,499.43 L76.90,502.01 L77.00,498.83 L77.10,497.96 L77.20,498.51 L77.30,497.38 L77.40,494.93 L77.50,493.43 L77.78,496.01 L78.06,492.29 L78.34,488.41 L78.62,490.49 L78.90,488.37 L79.02,486.97 L79.14,486.95 L79.25,484.95 L79.37,486.99 L79.49,482.52 L79.61,481.42 L79.73,481.91 L79.85,477.52 L79.96,479.28 L80.08,476.08 L80.20,477.23 L81.05,473.40 L81.90,475.79 L82.48,473.15 L83.05,476.47 L83.62,478.48 L84.20,480.52 L85.05,483.25 L85.90,483.00 L86.18,475.96 L86.45,475.88 L86.72,478.50 L87.00,475.83 L87.20,471.26 L87.40,473.62 L87.60,469.40 L87.80,468.75 L88.00,466.82 L88.20,467.60 L88.30,471.34 L88.40,466.56 L88.50,464.47 L88.60,468.50 L88.70,461.49 L89.10,463.24 L89.50,464.15 L89.90,466.62 L90.08,466.35 L90.27,470.92 L90.45,468.69 L90.63,471.48 L90.82,471.98 L91.00,471.07 L91.30,469.69 L91.60,470.30 L91.90,464.83 L92.20,468.13 L92.75,467.70 L93.30,467.28 L93.50,467.99 L93.70,469.95 L93.90,469.73 L94.10,472.76 L94.30,469.57 L94.50,475.53 L95.05,473.29 L95.60,477.01 L95.75,474.09 L95.90,473.02 L96.05,471.18 L96.20,474.11 L96.35,468.33 L96.50,466.95 L96.65,468.56 L96.80,467.51 L96.96,468.23 L97.11,467.43 L97.27,469.18 L97.43,473.30 L97.59,470.76 L97.74,475.01 L97.90,476.37 L98.50,474.10 L99.10,470.40 L99.26,477.45 L99.41,475.22 L99.57,476.50 L99.73,476.57 L99.89,476.66 L100.04,479.07 L100.20,481.07 L100.57,480.29 L100.93,483.18 L101.30,486.19 L101.53,485.76 L101.77,485.66 L102.00,488.58 L102.40,489.42 L102.80,490.46 L103.20,488.54 L103.60,487.84 L104.00,493.49 L104.30,493.35 L104.60,493.75 L104.90,496.36 L105.20,495.91 L105.50,496.77 L105.80,502.00 L106.10,497.44 L106.35,502.67 L106.60,504.13 L106.85,506.54 L107.10,505.22 L107.35,506.80 L107.60,505.68 L107.85,508.38 L108.10,506.17 L108.43,509.73 L108.77,511.69 L109.10,512.69 L109.43,513.23 L109.77,516.86 L110.10,513.80 L110.42,517.43 L110.75,517.66 L111.08,519.33 L111.40,520.38 L112.07,524.04 L112.73,520.55 L113.40,524.93 L113.80,526.07 L114.20,524.94 L114.60,525.32 L115.00,525.52 L115.40,527.12 L116.10,531.99 L116.80,527.17 L117.50,531.61 L117.90,531.16 L118.30,535.65 L118.70,534.65 L119.10,533.59 L119.50,535.74 L120.17,537.55 L120.83,538.36 L121.50,537.94 L122.04,539.82 L122.58,540.67 L123.12,542.85 L123.66,543.66 L124.20,544.66 L124.88,544.77 L125.55,547.32 L126.23,546.87 L126.90,547.62 L127.72,549.05 L128.55,550.17 L129.38,551.20 L130.20,550.63 L131.20,554.46 L132.20,554.43 L133.20,555.73 L134.20,554.85 L135.22,556.36 L136.25,556.37 L137.28,556.72 L138.30,558.45 L139.36,557.32 L140.42,558.39 L141.48,557.98 L142.54,559.16 L143.60,559.50" fill="none" stroke="#111" stroke-width="1.3" stroke-linejoin="round"/>
<path d="M199.70,559.50 L200.32,557.93 L200.95,556.53 L201.57,556.64 L202.20,553.16 L202.43,553.69 L202.66,550.66 L202.89,552.44 L203.11,550.45 L203.34,550.37 L203.57,547.39 L203.80,547.10 L204.04,545.21 L204.29,543.53 L204.53,543.26 L204.77,540.53 L205.01,540.31 L205.26,540.29 L205.50,538.37 L205.70,536.57 L205.90,538.39 L206.10,534.62 L206.30,532.58 L206.60,534.63 L206.90,534.95 L207.20,536.25 L207.52,535.28 L207.84,537.13 L208.16,533.73 L208.48,532.92 L208.80,532.54 L209.14,533.23 L209.48,529.42 L209.82,527.90 L210.16,530.90 L210.50,524.80 L210.78,525.10 L211.07,525.35 L211.35,526.42 L211.63,520.94 L211.92,517.79 L212.20,520.91 L212.47,518.17 L212.73,517.26 L213.00,517.35 L213.28,515.90 L213.57,514.89 L213.85,512.72 L214.13,514.12 L214.42,513.34 L214.70,510.05 L215.10,510.18 L215.50,512.78 L215.70,511.16 L215.90,507.64 L216.10,507.26 L216.30,508.29 L216.54,505.35 L216.79,503.79 L217.03,503.43 L217.27,501.85 L217.51,500.70 L217.76,496.44 L218.00,501.09 L218.11,497.43 L218.23,494.51 L218.34,496.34 L218.46,494.06 L218.57,492.40 L218.69,492.92 L218.80,493.77 L219.03,492.17 L219.25,495.11 L219.47,497.28 L219.70,493.34 L219.90,492.89 L220.10,493.78 L220.30,488.42 L220.50,489.55 L220.70,490.92 L220.90,489.26 L221.10,487.24 L221.30,481.76 L221.45,487.92 L221.60,483.72 L221.75,482.98 L221.90,481.40 L222.05,476.41 L222.20,475.77 L222.47,477.28 L222.73,483.88 L223.00,480.21 L223.27,482.35 L223.53,483.45 L223.80,485.98 L223.97,484.69 L224.14,483.12 L224.31,479.30 L224.48,474.84 L224.65,479.44 L224.82,478.45 L224.99,478.99 L225.16,475.46 L225.33,473.37 L225.50,474.04 L225.70,469.36 L225.90,469.16 L226.10,468.09 L226.30,469.33 L227.15,472.10 L228.00,469.11 L228.85,470.35 L229.70,469.24 L230.10,468.18 L230.50,465.70 L230.90,464.88 L231.12,462.04 L231.34,465.46 L231.56,466.46 L231.78,471.49 L232.00,472.31 L232.57,472.42 L233.13,472.41 L233.70,468.24 L234.10,469.61 L234.50,470.15 L234.90,465.38 L235.18,468.56 L235.45,467.40 L235.72,465.89 L236.00,470.22 L236.60,469.27 L237.20,471.73 L237.80,471.46 L237.94,471.59 L238.08,465.82 L238.21,472.27 L238.35,469.66 L238.49,465.21 L238.62,462.88 L238.76,463.29 L238.90,463.27 L239.01,464.05 L239.12,465.27 L239.23,462.12 L239.34,464.95 L239.45,470.77 L239.56,470.00 L239.67,468.05 L239.78,470.51 L239.89,470.73 L240.00,472.77 L240.90,476.12 L241.80,473.00 L242.20,476.63 L242.60,476.14 L243.00,474.30 L244.00,475.79 L245.00,481.02 L245.57,476.68 L246.15,477.33 L246.73,482.54 L247.30,481.66 L247.87,482.62 L248.43,486.33 L249.00,481.83 L249.15,486.91 L249.30,485.66 L249.45,486.36 L249.60,488.67 L249.75,493.28 L249.90,492.39 L250.05,490.85 L250.20,493.36 L250.77,498.48 L251.33,498.42 L251.90,495.71 L252.47,500.35 L253.05,494.59 L253.62,492.06 L254.20,492.67 L254.54,495.60 L254.88,497.85 L255.22,498.02 L255.56,496.76 L255.90,497.68 L256.12,497.40 L256.34,500.80 L256.56,501.13 L256.78,503.63 L257.00,502.40 L257.13,504.86 L257.27,505.57 L257.40,506.35 L257.53,507.66 L257.67,509.19 L257.80,510.22 L257.93,514.11 L258.07,514.68 L258.20,513.87 L258.77,517.31 L259.33,517.75 L259.90,520.20 L260.47,517.05 L261.03,516.26 L261.60,514.79 L261.75,517.13 L261.90,518.81 L262.05,519.50 L262.20,520.04 L262.35,522.34 L262.50,522.83 L262.65,524.19 L262.80,523.73 L263.14,526.42 L263.48,525.96 L263.82,527.31 L264.16,529.77 L264.50,533.40 L265.65,532.57 L266.80,531.91 L267.95,532.22 L269.10,534.24 L269.44,535.85 L269.78,536.77 L270.12,536.20 L270.46,537.78 L270.80,538.31 L271.15,539.32 L271.50,539.63 L272.00,541.45 L272.50,540.50 L273.00,542.70 L273.57,545.38 L274.15,544.88 L274.73,547.33 L275.30,546.39 L276.20,548.27 L277.10,549.95 L278.00,549.52 L278.85,550.66 L279.70,554.39 L280.55,552.37 L281.40,553.19 L282.30,553.99 L283.20,555.18 L284.10,555.80 L285.00,557.26 L286.12,557.65 L287.25,557.47 L288.38,558.15 L289.50,558.50 L290.67,558.89 L291.83,559.41 L293.00,559.80" fill="none" stroke="#111" stroke-width="1.3" stroke-linejoin="round"/>
<path d="M51.10,151.50 L51.94,151.00 L52.78,148.37 L53.62,148.35 L54.46,148.29 L55.30,148.82 L56.37,146.70 L57.43,144.30 L58.50,145.63 L59.17,143.21 L59.85,145.05 L60.53,142.61 L61.20,144.16 L61.90,141.25 L62.60,139.47 L63.30,138.21 L63.97,138.75 L64.65,138.96 L65.33,139.12 L66.00,137.15 L67.05,135.28 L68.10,136.37 L68.63,132.72 L69.17,134.33 L69.70,131.55 L69.90,133.46 L70.10,131.48 L70.30,129.30 L70.50,125.94 L70.70,127.04 L70.85,127.81 L71.00,127.48 L71.15,128.44 L71.30,132.24 L71.83,130.90 L72.37,133.16 L72.90,135.52 L73.60,132.28 L74.30,137.40 L75.00,137.05 L75.40,133.77 L75.80,132.29 L76.20,130.84 L76.60,132.83 L76.82,126.48 L77.04,130.32 L77.26,127.91 L77.48,125.33 L77.70,124.31 L77.90,123.46 L78.10,122.61 L78.30,123.36 L78.50,119.50 L78.70,121.61 L78.92,120.39 L79.14,117.25 L79.36,117.66 L79.58,114.63 L79.80,114.60 L79.90,114.13 L80.00,115.45 L80.10,110.66 L80.20,109.23 L80.30,108.31 L80.40,106.66 L80.49,103.84 L80.57,108.26 L80.66,102.39 L80.74,101.30 L80.83,99.91 L80.91,101.49 L81.00,104.84 L81.05,103.85 L81.11,98.62 L81.16,96.16 L81.22,94.23 L81.27,91.03 L81.33,93.45 L81.38,90.54 L81.44,93.92 L81.49,87.79 L81.55,85.04 L81.60,82.07 L81.72,83.42 L81.84,89.69 L81.96,90.32 L82.08,88.40 L82.20,88.83 L82.36,91.49 L82.52,89.06 L82.68,89.18 L82.84,87.56 L83.00,84.83 L83.30,81.51 L83.60,84.29 L83.80,83.21 L84.00,82.41 L84.20,83.09 L84.40,82.06 L84.56,77.84 L84.72,79.20 L84.88,71.91 L85.04,77.31 L85.20,74.63 L85.38,75.91 L85.56,74.71 L85.74,69.10 L85.92,69.84 L86.10,71.63 L86.22,66.59 L86.35,66.93 L86.47,64.17 L86.60,65.92 L86.85,65.96 L87.10,64.03 L87.19,61.45 L87.27,58.37 L87.36,64.64 L87.44,60.34 L87.53,58.59 L87.61,57.85 L87.70,55.73 L87.88,58.70 L88.05,57.56 L88.23,49.39 L88.40,53.93 L88.58,53.02 L88.75,50.68 L88.92,50.52 L89.10,53.30 L89.25,48.83 L89.40,50.10 L89.55,48.65 L89.70,41.06 L89.78,48.49 L89.87,43.23 L89.95,40.75 L90.03,42.58 L90.12,45.15 L90.20,35.90 L90.28,34.93 L90.36,36.49 L90.44,29.44 L90.52,29.98 L90.60,31.91 L90.68,32.58 L90.76,30.77 L90.84,30.35 L90.92,29.79 L91.00,24.29 L91.37,25.61 L91.73,26.77 L92.10,27.81 L92.32,32.85 L92.54,33.22 L92.76,26.25 L92.98,34.28 L93.20,31.13 L93.40,32.07 L93.60,39.67 L93.80,40.83 L94.00,41.49 L94.20,41.23 L94.31,43.13 L94.42,34.00 L94.53,38.18 L94.64,32.90 L94.75,31.91 L94.86,27.90 L94.97,35.44 L95.08,34.98 L95.19,32.14 L95.30,27.89 L95.35,30.14 L95.39,25.76 L95.44,28.52 L95.48,32.48 L95.53,33.81 L95.57,30.99 L95.62,29.78 L95.66,28.90 L95.71,29.76 L95.75,25.83 L95.80,28.66 L95.96,26.53 L96.11,14.36 L96.27,9.51 L96.43,9.59 L96.59,7.38 L96.74,11.13 L96.90,8.07 L97.06,4.40 L97.21,4.97 L97.37,10.69 L97.53,10.52 L97.69,10.72 L97.84,13.27 L98.00,18.66 L98.14,14.80 L98.29,20.42 L98.43,16.08 L98.57,18.03 L98.71,29.60 L98.86,30.15 L99.00,29.59 L99.11,25.70 L99.23,27.31 L99.34,28.68 L99.46,28.15 L99.57,30.97 L99.69,30.99 L99.80,32.05 L99.91,28.82 L100.03,30.16 L100.14,29.81 L100.26,11.13 L100.37,10.80 L100.49,4.93 L100.60,6.64 L100.70,7.22 L100.80,11.50 L100.90,11.62 L101.00,8.71 L101.10,12.88 L101.20,14.97 L101.30,14.31 L101.40,19.04 L101.50,17.43 L101.60,14.28 L101.70,20.05 L101.93,20.20 L102.16,14.43 L102.39,17.54 L102.61,21.22 L102.84,32.31 L103.07,27.16 L103.30,30.91 L103.37,28.78 L103.44,27.72 L103.51,29.92 L103.59,29.43 L103.66,29.31 L103.73,25.72 L103.80,34.96 L103.87,38.37 L103.94,32.35 L104.01,35.33 L104.09,38.40 L104.16,36.62 L104.23,40.57 L104.30,39.89 L104.38,38.27 L104.45,40.15 L104.53,41.93 L104.60,39.58 L104.67,39.47 L104.75,32.96 L104.83,30.49 L104.90,34.81 L105.00,37.68 L105.10,42.62 L105.20,40.19 L105.30,37.18 L105.40,45.47 L105.50,48.19 L105.60,47.07 L105.70,48.29 L105.80,49.53 L105.90,49.91 L106.00,54.93 L106.10,50.50 L106.20,51.96 L106.30,51.44 L106.40,55.09 L106.50,55.89 L106.60,57.25 L106.70,60.61 L106.80,63.96 L107.25,76.97 L107.70,79.65 L108.15,85.01 L108.60,79.66 L108.65,84.49 L108.70,60.29 L108.75,56.64 L108.80,65.53 L108.85,62.87 L108.90,62.56 L108.95,61.70 L109.00,69.34 L109.22,69.58 L109.45,71.14 L109.68,70.53 L109.90,75.37 L111.05,92.81 L112.20,96.79 L112.25,92.74 L112.30,97.74 L112.35,93.53 L112.40,94.22 L112.45,94.27 L112.50,94.57 L112.55,93.54 L112.60,93.38 L112.78,83.32 L112.96,84.96 L113.14,84.97 L113.32,85.61 L113.50,87.39 L113.85,90.90 L114.20,92.15 L114.55,94.04 L114.90,97.93 L115.80,103.56 L116.70,110.07 L116.88,107.04 L117.06,109.05 L117.24,106.09 L117.42,108.43 L117.60,112.32 L117.66,113.63 L117.72,110.50 L117.78,113.45 L117.84,112.89 L117.90,109.59 L118.63,109.23 L119.37,105.51 L120.10,106.27 L120.23,108.28 L120.36,107.79 L120.49,109.55 L120.61,113.25 L120.74,111.33 L120.87,122.92 L121.00,120.59 L121.90,123.04 L122.80,115.02 L122.89,116.38 L122.98,116.16 L123.07,120.88 L123.16,117.44 L123.25,121.17 L123.34,120.25 L123.43,122.58 L123.52,124.61 L123.61,122.82 L123.70,128.29 L124.30,126.90 L124.90,137.32 L125.50,134.83 L126.20,135.97 L126.90,135.05 L127.16,128.14 L127.42,131.52 L127.68,131.77 L127.94,132.59 L128.20,134.68 L128.53,135.29 L128.86,130.44 L129.19,127.17 L129.51,139.84 L129.84,140.50 L130.17,140.34 L130.50,143.89 L130.63,142.93 L130.76,146.14 L130.89,145.33 L131.01,128.82 L131.14,130.99 L131.27,132.36 L131.40,133.15 L132.50,135.75 L133.60,146.63 L133.88,147.32 L134.16,148.27 L134.44,147.15 L134.72,147.07 L135.00,146.65 L135.44,140.30 L135.88,138.41 L136.32,136.11 L136.76,140.19 L137.20,137.92 L137.35,136.86 L137.50,137.84 L137.65,139.17 L137.80,141.37 L137.95,141.64 L138.10,140.70 L139.00,144.42 L139.90,145.61 L140.50,142.59 L141.10,141.58 L141.70,142.21 L141.98,142.14 L142.26,145.62 L142.54,146.47 L142.82,144.86 L143.10,148.18 L144.20,146.28 L145.30,147.01 L146.10,148.40 L146.90,146.09 L147.70,146.39 L148.50,144.55 L149.40,148.05 L150.30,146.82 L150.62,150.75 L150.95,149.20 L151.28,149.27 L151.60,150.58 L152.07,151.30 L152.53,152.88 L153.00,153.30" fill="none" stroke="#111" stroke-width="1.7" stroke-linejoin="round"/>
<path d="M49.40,343.10 L49.85,343.91 L50.30,345.16 L50.75,345.79 L51.20,346.68 L51.55,345.51 L51.90,344.86 L52.25,344.51 L52.60,343.29 L53.37,342.69 L54.13,341.42 L54.90,340.60 L55.35,339.35 L55.80,337.18 L56.25,337.44 L56.70,336.10 L57.65,335.40 L58.60,333.36 L58.92,332.04 L59.25,331.32 L59.58,330.33 L59.90,329.61 L60.12,328.22 L60.35,327.48 L60.57,325.48 L60.80,325.03 L61.75,324.40 L62.70,322.89 L63.17,323.68 L63.63,321.71 L64.10,321.17 L64.32,318.54 L64.55,317.28 L64.78,316.46 L65.00,315.51 L65.10,315.00 L65.20,313.52 L65.30,311.75 L65.40,310.12 L65.70,309.62 L66.00,310.34 L66.30,307.54 L66.55,307.38 L66.80,306.41 L67.05,303.39 L67.30,303.75 L67.44,303.87 L67.58,299.38 L67.72,299.95 L67.86,299.03 L68.00,297.15 L68.20,297.34 L68.40,295.57 L68.60,292.87 L68.80,294.17 L69.00,292.82 L69.20,291.95 L69.49,291.39 L69.77,289.05 L70.06,287.65 L70.34,284.89 L70.63,285.97 L70.91,283.41 L71.20,282.47 L71.39,280.36 L71.57,279.56 L71.76,278.93 L71.94,280.00 L72.13,274.80 L72.31,274.34 L72.50,275.30 L72.79,275.57 L73.08,273.26 L73.36,268.87 L73.65,266.82 L73.94,269.27 L74.22,266.62 L74.51,264.87 L74.80,266.39 L74.94,265.34 L75.08,262.87 L75.21,261.77 L75.35,260.81 L75.49,261.18 L75.62,258.64 L75.76,257.28 L75.90,256.11 L76.04,251.94 L76.17,254.72 L76.31,253.05 L76.45,251.23 L76.59,246.43 L76.72,247.13 L76.86,248.04 L77.00,242.96 L77.19,244.08 L77.38,244.60 L77.58,239.91 L77.77,243.00 L77.96,240.18 L78.15,237.87 L78.34,237.34 L78.53,236.59 L78.72,234.53 L78.92,234.86 L79.11,230.83 L79.30,229.96 L79.38,230.99 L79.45,228.17 L79.53,225.50 L79.60,227.15 L79.67,226.75 L79.75,222.46 L79.83,219.72 L79.90,220.48 L80.00,219.38 L80.10,218.05 L80.20,219.76 L80.30,214.69 L80.40,217.38 L80.65,214.32 L80.90,216.21 L81.15,219.63 L81.40,221.53 L81.65,222.24 L81.90,222.55 L82.15,223.38 L82.40,224.54 L82.65,226.36 L82.90,226.32 L83.13,225.81 L83.37,225.05 L83.60,222.90 L83.83,222.90 L84.07,221.35 L84.30,222.47 L85.55,219.73 L86.80,218.51 L87.30,219.76 L87.80,221.51 L88.30,224.18 L88.65,223.39 L89.00,225.76 L89.35,229.28 L89.70,223.57 L89.95,224.60 L90.20,225.54 L90.45,224.56 L90.70,223.08 L90.75,223.19 L90.80,226.10 L90.85,226.69 L90.90,226.60 L90.95,232.41 L91.00,230.33 L91.05,230.10 L91.10,231.99 L91.15,232.97 L91.20,234.40 L91.34,231.46 L91.49,235.99 L91.63,239.36 L91.77,237.20 L91.91,239.97 L92.06,242.60 L92.20,243.57 L92.95,245.50 L93.70,241.81 L94.05,244.76 L94.40,245.75 L94.75,248.13 L95.10,249.77 L95.47,243.35 L95.85,247.83 L96.22,243.16 L96.60,245.30 L96.90,240.92 L97.20,242.20 L97.50,242.54 L97.80,239.36 L98.10,238.69 L98.24,240.72 L98.39,240.87 L98.53,241.65 L98.67,245.18 L98.81,245.58 L98.96,244.74 L99.10,250.29 L100.00,245.54 L100.04,249.75 L100.08,249.29 L100.12,251.09 L100.17,253.13 L100.21,253.68 L100.25,255.49 L100.29,253.72 L100.33,254.99 L100.38,259.14 L100.42,258.22 L100.46,259.38 L100.50,260.03 L100.55,264.90 L100.60,265.41 L100.65,267.57 L100.70,265.61 L100.75,268.05 L100.80,267.79 L100.85,271.45 L100.90,273.70 L100.95,271.77 L101.00,276.05 L101.11,274.17 L101.22,271.52 L101.33,268.05 L101.44,271.20 L101.56,268.09 L101.67,266.25 L101.78,266.38 L101.89,265.22 L102.00,265.49 L103.10,262.70 L104.20,266.10 L104.40,267.83 L104.60,269.05 L104.80,268.21 L105.00,268.76 L105.20,272.30 L105.73,270.41 L106.27,269.69 L106.80,270.64 L107.07,269.71 L107.33,268.38 L107.60,272.06 L107.87,271.48 L108.13,276.07 L108.40,276.69 L108.77,274.47 L109.13,274.15 L109.50,274.15 L109.87,272.13 L110.23,272.66 L110.60,269.82 L111.02,272.29 L111.44,273.91 L111.86,275.11 L112.28,273.30 L112.70,276.29 L113.10,271.80 L113.50,271.74 L113.90,269.56 L114.30,272.36 L114.40,270.71 L114.50,273.52 L114.60,274.57 L114.70,276.04 L114.80,276.63 L114.90,278.90 L115.00,282.05 L115.10,281.21 L115.20,283.06 L115.30,284.87 L115.50,284.62 L115.70,284.55 L115.90,286.51 L116.10,289.52 L116.57,285.49 L117.03,285.75 L117.50,286.67 L117.67,287.65 L117.85,287.98 L118.03,290.12 L118.20,290.64 L118.38,290.38 L118.55,291.21 L118.73,293.47 L118.90,296.39 L119.34,295.92 L119.78,296.69 L120.22,297.96 L120.66,298.30 L121.10,300.88 L121.80,300.74 L122.50,303.23 L123.20,301.46 L123.55,305.17 L123.90,305.28 L124.25,305.08 L124.60,308.69 L125.65,308.44 L126.70,307.31 L127.17,309.56 L127.63,311.60 L128.10,311.89 L128.37,314.10 L128.64,315.16 L128.91,316.18 L129.19,316.98 L129.46,318.92 L129.73,319.45 L130.00,320.37 L130.73,317.24 L131.47,318.69 L132.20,318.02 L132.46,317.87 L132.72,318.95 L132.98,322.13 L133.24,320.38 L133.50,323.37 L133.93,325.93 L134.35,324.45 L134.77,326.73 L135.20,328.67 L135.77,328.38 L136.33,330.02 L136.90,331.41 L137.35,329.28 L137.80,328.94 L138.03,330.30 L138.25,331.75 L138.47,332.28 L138.70,333.28 L139.10,333.63 L139.50,334.91 L139.90,336.53 L140.33,336.89 L140.77,337.18 L141.20,338.03 L141.65,341.02 L142.10,341.28 L142.55,342.11 L143.00,341.68 L143.65,342.30 L144.30,341.34 L145.00,342.53 L145.70,342.51 L146.40,342.87 L147.30,343.99 L148.20,343.76 L149.05,345.88 L149.90,346.43 L150.63,346.91 L151.37,348.49 L152.10,349.48 L152.95,349.13 L153.80,350.01 L154.90,350.53 L156.00,350.75 L156.85,351.00 L157.70,351.28 L158.75,352.39 L159.80,352.59 L160.45,352.66 L161.10,353.12 L162.05,353.91 L163.00,354.20" fill="none" stroke="#111" stroke-width="1.15" stroke-linejoin="round"/>
<path d="M57.20,354.10 L57.65,353.23 L58.10,352.60 L58.55,351.57 L59.00,350.70 L59.35,349.71 L59.70,348.74 L60.05,347.89 L60.40,346.80 L61.10,346.16 L61.80,345.66 L62.16,344.47 L62.52,343.81 L62.88,342.82 L63.24,342.12 L63.60,340.63 L63.83,339.32 L64.07,338.24 L64.30,336.74 L64.53,334.70 L64.77,334.76 L65.00,332.84 L65.18,332.06 L65.36,330.72 L65.54,331.21 L65.72,329.24 L65.90,327.78 L66.08,325.67 L66.26,325.49 L66.44,323.22 L66.62,323.11 L66.80,320.27 L66.98,320.01 L67.16,319.53 L67.34,317.34 L67.52,316.84 L67.70,315.78 L67.88,315.18 L68.06,313.16 L68.24,312.84 L68.42,312.68 L68.60,309.16 L68.80,308.49 L69.00,308.31 L69.20,306.42 L69.40,304.82 L69.60,305.73 L69.82,304.25 L70.05,303.21 L70.28,302.06 L70.50,300.65 L70.63,298.27 L70.75,295.87 L70.88,296.92 L71.01,294.48 L71.14,294.19 L71.26,293.28 L71.39,290.74 L71.52,290.30 L71.65,290.85 L71.77,288.85 L71.90,285.63 L72.09,285.71 L72.27,284.76 L72.46,284.13 L72.64,283.16 L72.83,281.32 L73.01,280.03 L73.20,279.90 L73.36,276.60 L73.53,277.74 L73.69,275.78 L73.86,273.79 L74.02,272.50 L74.19,272.05 L74.35,269.21 L74.51,267.15 L74.68,268.54 L74.84,268.38 L75.01,265.60 L75.17,264.58 L75.34,263.29 L75.50,261.13 L75.64,261.28 L75.79,260.48 L75.93,258.47 L76.07,258.15 L76.21,254.96 L76.36,255.06 L76.50,252.80 L76.64,251.85 L76.79,251.43 L76.93,250.10 L77.07,249.62 L77.21,248.20 L77.36,245.01 L77.50,246.46 L77.66,242.17 L77.83,242.59 L77.99,241.83 L78.15,240.22 L78.32,239.68 L78.48,237.97 L78.65,235.66 L78.81,236.48 L78.97,234.32 L79.14,232.16 L79.30,232.08 L79.60,230.78 L79.90,229.99 L80.03,230.17 L80.15,232.25 L80.28,233.07 L80.40,236.30 L80.53,235.33 L80.65,238.37 L80.78,238.09 L80.90,240.64 L81.15,243.16 L81.40,241.44 L81.65,243.23 L81.90,243.33 L82.40,244.05 L82.90,244.70 L83.18,246.58 L83.46,248.64 L83.74,249.78 L84.02,249.51 L84.30,251.35 L84.55,250.92 L84.80,254.25 L85.05,254.63 L85.30,255.01 L85.55,254.14 L85.80,254.24 L86.05,252.53 L86.30,251.86 L86.55,249.74 L86.80,249.36 L87.05,247.95 L87.30,245.60 L87.55,248.28 L87.80,249.56 L88.05,250.24 L88.30,253.01 L88.65,255.61 L89.00,256.09 L89.35,255.92 L89.70,255.94 L90.30,256.92 L90.48,257.66 L90.66,259.63 L90.83,261.84 L91.01,261.80 L91.19,261.67 L91.37,265.54 L91.54,265.48 L91.72,267.91 L91.90,266.97 L92.18,269.10 L92.45,264.48 L92.72,264.71 L93.00,264.29 L93.16,262.24 L93.31,265.17 L93.47,265.63 L93.63,269.97 L93.79,270.22 L93.94,269.90 L94.10,270.40 L94.22,271.61 L94.35,274.55 L94.47,274.88 L94.60,277.13 L94.72,277.53 L94.85,277.71 L94.97,281.98 L95.10,282.02 L95.65,280.44 L96.20,280.20 L96.65,282.76 L97.10,283.45 L97.55,282.81 L98.00,286.23 L98.43,285.50 L98.87,287.51 L99.30,287.05 L99.73,288.52 L100.17,290.73 L100.60,290.13 L100.95,292.34 L101.30,293.79 L101.65,294.13 L102.00,296.96 L102.35,297.53 L102.70,298.10 L103.25,300.01 L103.80,301.32 L104.35,302.26 L104.90,302.31 L105.60,303.92 L106.30,304.55 L107.00,304.42 L107.42,306.07 L107.84,308.85 L108.26,308.02 L108.68,310.01 L109.10,311.93 L109.45,311.74 L109.80,313.16 L110.15,313.87 L110.50,315.86 L110.85,315.96 L111.20,318.18 L111.55,318.45 L111.90,320.20 L112.25,320.05 L112.60,321.47 L113.53,323.10 L114.47,323.36 L115.40,321.79 L115.75,325.39 L116.10,325.15 L116.45,327.12 L116.80,328.23 L117.85,328.36 L118.90,329.00 L119.63,329.18 L120.37,331.29 L121.10,332.89 L121.80,330.46 L122.50,330.69 L123.20,329.57 L123.48,330.79 L123.76,330.92 L124.04,332.50 L124.32,333.79 L124.60,335.56 L125.65,335.09 L126.70,335.97 L127.40,336.81 L128.10,338.41 L128.80,338.37 L129.50,339.62 L130.20,339.91 L130.90,340.97 L131.60,342.07 L132.07,342.55 L132.53,343.89 L133.00,344.45 L133.90,344.13 L134.80,343.65 L135.45,343.20 L136.10,343.44 L136.75,344.16 L137.40,344.35 L137.83,345.67 L138.27,346.36 L138.70,347.08 L139.75,347.69 L140.80,348.30 L141.90,348.68 L143.00,349.24 L143.85,349.40 L144.70,349.84 L145.80,350.16 L146.90,351.00 L147.95,351.84 L149.00,352.25 L150.10,352.48 L151.20,353.01 L152.10,353.49 L153.00,354.20" fill="none" stroke="#111" stroke-width="1.15" stroke-linejoin="round"/>
<path d="M58.10,559.20 L58.60,557.83 L59.10,557.69 L59.60,558.12 L60.10,557.68 L61.00,556.62 L61.90,554.53 L62.80,554.24 L63.20,552.40 L63.60,549.83 L64.00,549.95 L64.40,550.97 L64.80,548.88 L65.06,546.93 L65.32,544.66 L65.58,545.11 L65.84,543.22 L66.10,543.16 L66.45,542.93 L66.80,537.14 L67.15,539.94 L67.50,536.49 L68.15,536.72 L68.80,535.45 L68.94,538.67 L69.08,536.79 L69.22,535.40 L69.36,531.96 L69.50,529.52 L69.60,530.44 L69.70,530.47 L69.80,528.80 L69.90,529.22 L70.00,525.99 L70.10,529.32 L70.24,525.91 L70.38,527.68 L70.52,522.94 L70.66,520.86 L70.80,518.47 L71.15,521.04 L71.50,520.55 L71.85,517.57 L72.20,517.11 L72.70,514.59 L73.20,513.25 L73.70,512.53 L74.20,507.87 L74.60,508.65 L75.00,509.89 L75.40,508.89 L75.80,509.98 L76.20,507.70 L76.53,506.04 L76.85,503.96 L77.17,497.14 L77.50,501.61 L78.20,498.60 L78.90,501.31 L79.10,498.32 L79.30,497.12 L79.50,495.55 L79.70,495.10 L79.90,489.78 L79.98,489.66 L80.05,495.87 L80.12,492.83 L80.20,489.53 L80.23,488.51 L80.26,487.19 L80.29,495.55 L80.32,487.03 L80.35,484.39 L80.38,481.30 L80.41,475.43 L80.44,480.94 L80.46,483.16 L80.49,480.67 L80.52,477.57 L80.55,473.87 L80.58,470.98 L80.61,473.26 L80.64,470.61 L80.67,467.27 L80.70,474.03 L81.00,467.70 L81.30,469.97 L81.60,465.87 L81.90,478.58 L82.33,472.19 L82.75,471.30 L83.17,471.21 L83.60,466.84 L83.65,466.22 L83.70,467.64 L83.75,463.14 L83.80,465.23 L83.85,466.63 L83.90,464.07 L83.95,464.78 L84.00,462.54 L84.05,463.31 L84.10,457.72 L84.15,456.90 L84.20,451.05 L84.27,452.60 L84.34,449.71 L84.41,450.49 L84.47,446.27 L84.54,454.96 L84.61,461.28 L84.68,451.19 L84.75,454.62 L84.82,456.19 L84.89,451.01 L84.96,452.79 L85.03,452.62 L85.09,453.77 L85.16,450.14 L85.23,458.37 L85.30,455.83 L85.47,453.42 L85.64,457.90 L85.81,454.80 L85.99,439.09 L86.16,441.75 L86.33,441.84 L86.50,443.71 L86.72,447.07 L86.94,438.90 L87.16,441.04 L87.38,446.41 L87.60,449.96 L88.15,445.88 L88.70,451.97 L88.80,456.02 L88.90,455.47 L89.00,453.57 L89.10,451.15 L89.20,449.37 L89.30,454.85 L89.47,453.98 L89.64,452.01 L89.81,454.31 L89.99,452.46 L90.16,453.41 L90.33,449.38 L90.50,457.51 L90.61,443.77 L90.71,445.87 L90.82,444.43 L90.92,440.70 L91.03,441.05 L91.14,439.27 L91.24,437.99 L91.35,438.18 L91.46,434.27 L91.56,437.33 L91.67,434.26 L91.78,428.84 L91.88,432.79 L91.99,428.88 L92.09,455.09 L92.20,445.64 L92.75,452.10 L93.30,440.85 L93.54,445.96 L93.78,457.96 L94.02,448.00 L94.26,449.96 L94.50,446.39 L94.75,426.30 L95.00,428.60 L95.06,431.48 L95.12,431.07 L95.18,430.43 L95.24,431.05 L95.30,433.88 L95.36,441.70 L95.42,437.74 L95.48,437.81 L95.54,439.44 L95.60,438.47 L95.84,438.43 L96.08,444.36 L96.32,449.27 L96.56,452.40 L96.80,446.55 L96.86,456.41 L96.92,451.84 L96.99,456.89 L97.05,450.28 L97.11,446.41 L97.17,452.96 L97.24,452.02 L97.30,446.13 L97.40,450.28 L97.50,451.16 L97.60,449.96 L97.70,453.28 L97.80,454.24 L97.90,451.36 L98.00,451.68 L98.10,455.11 L98.20,454.75 L98.30,449.76 L98.40,454.69 L98.50,459.95 L98.59,455.17 L98.68,446.89 L98.78,453.09 L98.87,454.90 L98.96,446.31 L99.05,437.36 L99.14,438.75 L99.23,448.17 L99.32,440.41 L99.42,442.02 L99.51,440.29 L99.60,437.86 L99.77,443.91 L99.94,440.29 L100.11,442.74 L100.29,443.01 L100.46,443.94 L100.63,452.06 L100.80,441.93 L100.94,442.76 L101.08,458.23 L101.21,452.01 L101.35,456.31 L101.49,453.00 L101.62,460.20 L101.76,457.58 L101.90,459.52 L102.05,455.82 L102.20,457.40 L102.35,450.05 L102.50,459.40 L102.65,459.81 L102.80,446.88 L102.95,445.72 L103.10,443.06 L103.20,445.30 L103.30,452.72 L103.40,446.09 L103.50,447.73 L103.60,452.65 L103.70,452.46 L103.80,451.11 L103.90,459.29 L104.00,460.60 L104.10,455.74 L104.20,463.49 L104.80,454.32 L105.40,473.71 L105.46,463.32 L105.51,471.02 L105.57,468.27 L105.62,469.22 L105.68,471.21 L105.73,467.96 L105.79,468.20 L105.84,467.14 L105.90,475.01 L106.50,468.26 L107.10,471.57 L107.65,471.02 L108.20,475.83 L108.40,471.02 L108.60,472.66 L108.80,474.47 L109.00,477.96 L109.20,476.44 L109.40,481.02 L110.10,481.66 L110.24,484.10 L110.38,483.78 L110.52,487.22 L110.66,483.52 L110.80,484.17 L111.80,484.33 L112.80,484.98 L113.80,483.95 L114.80,489.29 L115.23,487.60 L115.67,480.75 L116.10,485.21 L116.14,484.82 L116.18,485.59 L116.22,488.55 L116.26,493.75 L116.31,492.09 L116.35,487.83 L116.39,495.16 L116.43,493.30 L116.47,501.04 L116.51,496.84 L116.55,499.15 L116.59,500.09 L116.64,499.78 L116.68,502.10 L116.72,504.09 L116.76,510.97 L116.80,507.17 L116.86,509.33 L116.93,509.60 L116.99,511.03 L117.05,512.60 L117.12,516.32 L117.18,507.49 L117.25,514.05 L117.31,514.81 L117.37,519.86 L117.44,517.39 L117.50,522.51 L117.93,523.68 L118.37,521.02 L118.80,524.31 L119.23,522.97 L119.67,526.60 L120.10,536.16 L120.26,537.35 L120.41,538.66 L120.57,534.26 L120.72,539.28 L120.88,537.11 L121.03,539.34 L121.19,538.06 L121.34,539.85 L121.50,536.40 L122.50,538.34 L123.50,533.27 L123.76,543.26 L124.02,544.69 L124.28,541.41 L124.54,544.50 L124.80,545.39 L125.50,541.09 L126.20,538.58 L126.90,545.86 L127.23,545.85 L127.57,546.33 L127.90,549.80 L128.23,548.19 L128.57,544.42 L128.90,547.05 L129.80,544.51 L130.70,550.93 L131.60,552.22 L132.25,552.98 L132.90,544.57 L133.55,547.92 L134.20,550.01 L135.10,555.59 L136.00,555.34 L136.90,549.09 L137.80,554.43 L138.70,552.72 L139.60,558.86 L140.50,552.57 L141.40,553.13 L142.30,558.12 L143.20,559.34 L144.10,554.43 L145.00,554.86 L145.90,559.21 L146.80,559.58 L147.70,558.92 L148.57,559.45 L149.43,556.32 L150.30,558.29 L151.33,558.40 L152.35,559.22 L153.38,558.66 L154.40,559.50" fill="none" stroke="#111" stroke-width="1.2" stroke-linejoin="round"/>
<path d="M204.70,559.50 L205.32,558.11 L205.95,557.30 L206.57,556.11 L207.20,555.45 L208.03,556.87 L208.87,554.59 L209.70,556.35 L210.53,555.34 L211.37,554.03 L212.20,554.06 L212.82,553.15 L213.45,555.29 L214.07,551.45 L214.70,549.99 L215.12,550.12 L215.53,546.23 L215.95,545.75 L216.37,546.39 L216.78,543.63 L217.20,541.71 L217.47,541.25 L217.73,538.83 L218.00,541.96 L218.27,541.11 L218.53,542.45 L218.80,536.18 L219.04,535.08 L219.29,533.93 L219.53,534.11 L219.77,531.93 L220.01,532.24 L220.26,528.89 L220.50,525.45 L220.61,530.34 L220.73,524.91 L220.84,527.15 L220.96,522.85 L221.07,522.68 L221.19,517.61 L221.30,517.88 L221.45,519.75 L221.60,519.08 L221.75,516.13 L221.90,515.86 L222.05,510.20 L222.20,513.39 L222.40,510.48 L222.60,508.37 L222.80,510.38 L223.00,507.22 L223.57,505.07 L224.13,505.14 L224.70,504.04 L224.83,503.17 L224.97,502.95 L225.10,500.54 L225.23,502.83 L225.37,503.41 L225.50,500.88 L225.74,496.23 L225.99,494.26 L226.23,495.75 L226.47,492.99 L226.71,496.00 L226.96,491.77 L227.20,491.22 L227.31,487.25 L227.43,488.08 L227.54,483.42 L227.66,481.14 L227.77,484.62 L227.89,479.74 L228.00,479.97 L228.28,483.05 L228.57,483.95 L228.85,478.49 L229.13,476.00 L229.42,478.32 L229.70,477.77 L229.83,475.41 L229.97,470.24 L230.10,470.19 L230.23,473.56 L230.37,466.16 L230.50,468.50 L230.54,470.75 L230.59,468.98 L230.63,462.70 L230.68,462.57 L230.72,461.58 L230.77,457.61 L230.81,460.05 L230.86,455.97 L230.90,459.30 L231.06,452.89 L231.21,453.12 L231.37,452.07 L231.53,466.07 L231.69,457.72 L231.84,466.64 L232.00,462.50 L232.07,462.71 L232.13,465.69 L232.20,460.01 L232.27,460.21 L232.33,459.43 L232.40,463.74 L232.47,458.79 L232.53,461.39 L232.60,457.46 L232.97,452.92 L233.33,436.56 L233.70,430.80 L234.10,433.31 L234.50,431.08 L234.90,423.74 L235.05,428.59 L235.21,446.45 L235.36,443.10 L235.52,438.99 L235.67,449.81 L235.83,450.00 L235.98,441.50 L236.14,443.68 L236.29,444.66 L236.45,444.18 L236.60,443.62 L236.70,438.51 L236.80,448.94 L236.90,434.48 L237.00,436.50 L237.10,444.14 L237.20,444.63 L237.30,436.63 L237.40,450.41 L237.50,448.03 L237.60,444.70 L237.70,422.20 L237.80,434.99 L238.35,430.72 L238.90,428.98 L239.06,427.08 L239.21,421.17 L239.37,422.07 L239.53,426.49 L239.69,427.23 L239.84,425.08 L240.00,452.80 L240.10,445.45 L240.20,446.16 L240.30,453.77 L240.40,449.20 L240.50,441.29 L240.60,449.40 L240.73,442.69 L240.87,445.41 L241.00,439.48 L241.13,447.60 L241.27,445.69 L241.40,421.72 L241.53,420.70 L241.67,428.92 L241.80,424.83 L242.08,423.63 L242.35,418.68 L242.62,418.48 L242.90,425.45 L243.14,419.34 L243.38,447.82 L243.62,443.10 L243.86,444.55 L244.10,444.18 L244.22,444.11 L244.35,445.89 L244.47,446.82 L244.60,441.35 L244.80,423.05 L245.00,430.58 L245.20,422.30 L245.40,427.43 L245.60,428.43 L245.80,433.61 L246.02,428.03 L246.24,436.81 L246.46,429.63 L246.68,434.86 L246.90,442.40 L247.14,446.03 L247.38,443.90 L247.62,441.14 L247.86,447.98 L248.10,440.72 L248.65,433.45 L249.20,423.68 L249.29,438.87 L249.38,434.40 L249.48,441.90 L249.57,439.73 L249.66,438.67 L249.75,439.07 L249.85,439.44 L249.94,444.63 L250.03,443.01 L250.12,440.01 L250.22,445.31 L250.31,449.02 L250.40,448.91 L250.68,450.61 L250.95,452.40 L251.22,447.35 L251.50,456.62 L251.78,461.48 L252.05,459.46 L252.32,457.46 L252.60,455.79 L253.20,458.78 L253.80,467.13 L254.35,456.36 L254.90,458.30 L255.05,457.70 L255.20,461.12 L255.35,456.76 L255.50,455.80 L255.65,461.84 L255.80,464.59 L255.95,457.70 L256.10,466.06 L256.22,468.49 L256.34,468.47 L256.47,469.08 L256.59,465.75 L256.71,469.96 L256.83,470.27 L256.96,476.96 L257.08,476.55 L257.20,478.38 L257.77,473.54 L258.33,477.17 L258.90,484.24 L259.16,483.95 L259.41,489.18 L259.67,475.23 L259.93,474.03 L260.19,476.96 L260.44,471.06 L260.70,471.02 L260.84,477.01 L260.98,479.19 L261.11,474.64 L261.25,473.05 L261.39,476.55 L261.52,482.87 L261.66,495.59 L261.80,498.97 L261.93,496.38 L262.07,491.22 L262.20,492.22 L262.33,495.68 L262.47,496.64 L262.60,499.84 L262.73,501.81 L262.87,503.38 L263.00,500.91 L263.40,496.66 L263.80,487.97 L264.20,492.60 L264.60,497.46 L265.00,495.67 L266.00,515.33 L267.00,517.32 L268.00,499.60 L269.00,497.71 L269.25,498.90 L269.50,499.00 L269.75,501.97 L270.00,527.08 L270.25,526.38 L270.50,525.35 L270.75,527.85 L271.00,526.07 L271.67,529.90 L272.33,505.86 L273.00,507.11 L273.29,510.44 L273.57,511.54 L273.86,513.46 L274.14,512.61 L274.43,511.13 L274.71,538.78 L275.00,534.42 L275.29,540.66 L275.57,540.79 L275.86,537.52 L276.14,537.81 L276.43,535.82 L276.71,539.30 L277.00,537.45 L277.67,525.25 L278.33,526.34 L279.00,525.74 L279.50,543.98 L280.00,545.27 L280.50,545.77 L281.00,546.52 L281.20,545.00 L281.40,542.74 L281.60,542.61 L281.80,549.22 L282.00,534.18 L282.20,535.53 L282.40,538.13 L282.60,539.55 L282.80,542.19 L283.00,544.08 L284.00,542.41 L285.00,549.52 L286.00,550.80 L286.75,550.21 L287.50,544.63 L288.25,546.30 L289.00,548.27 L289.50,550.30 L290.00,550.88 L290.50,554.04 L291.00,556.08 L291.75,554.91 L292.50,558.33 L293.25,555.95 L294.00,558.06 L294.75,557.15 L295.50,557.05 L296.25,559.67 L297.00,559.80" fill="none" stroke="#111" stroke-width="1.3" stroke-linejoin="round"/>
<path d="M51.40,2.40 L304.40,3.50 L303.50,153.80 L50.50,152.80 Z" fill="none" stroke="#111" stroke-width="1.4"/>
<line x1="100.8" y1="153.3" x2="100.8" y2="162.3" stroke="#111" stroke-width="1.3"/>
<line x1="152.3" y1="153.3" x2="152.3" y2="162.3" stroke="#111" stroke-width="1.3"/>
<line x1="203.5" y1="153.3" x2="203.5" y2="162.3" stroke="#111" stroke-width="1.3"/>
<line x1="253.9" y1="153.3" x2="253.9" y2="162.3" stroke="#111" stroke-width="1.3"/>
<path d="M49.80,202.90 L302.90,204.10 L301.40,354.80 L48.50,353.70 Z" fill="none" stroke="#111" stroke-width="1.4"/>
<line x1="99.4" y1="354.2" x2="99.4" y2="363.2" stroke="#111" stroke-width="1.3"/>
<line x1="151.0" y1="354.2" x2="151.0" y2="363.2" stroke="#111" stroke-width="1.3"/>
<line x1="202.5" y1="354.2" x2="202.5" y2="363.2" stroke="#111" stroke-width="1.3"/>
<line x1="251.8" y1="354.2" x2="251.8" y2="363.2" stroke="#111" stroke-width="1.3"/>
<path d="M48.70,407.90 L301.40,409.40 L300.60,559.80 L47.50,559.50 Z" fill="none" stroke="#111" stroke-width="1.4"/>
<line x1="98.7" y1="559.8" x2="98.7" y2="568.3" stroke="#111" stroke-width="1.3"/>
<line x1="149.6" y1="559.8" x2="149.6" y2="568.3" stroke="#111" stroke-width="1.3"/>
<line x1="200.8" y1="559.8" x2="200.8" y2="568.3" stroke="#111" stroke-width="1.3"/>
<line x1="251.2" y1="559.8" x2="251.2" y2="568.3" stroke="#111" stroke-width="1.3"/>
<text x="23.23" y="18.77" font-size="13.20">500</text>
<text x="22.76" y="87.47" font-size="13.20">250</text>
<text x="36.67" y="155.77" font-size="13.20">0</text>
<text x="21.53" y="219.77" font-size="13.20">500</text>
<text x="21.16" y="288.17" font-size="13.20">250</text>
<text x="35.42" y="356.47" font-size="13.20">0</text>
<text x="20.43" y="424.27" font-size="13.20">500</text>
<text x="19.81" y="493.57" font-size="13.20">250</text>
<text x="34.22" y="562.47" font-size="13.20">0</text>
<text x="0" y="0" font-size="12.80" transform="translate(11.77,96.16) rotate(-90)">counts</text>
<text x="0" y="0" font-size="12.80" transform="translate(10.67,297.51) rotate(-90)">counts</text>
<text x="0" y="0" font-size="12.80" transform="translate(9.37,502.26) rotate(-90)">counts</text>
<text x="282.89" y="21.90" font-size="16.80">A</text>
<text x="280.94" y="222.50" font-size="16.80">B</text>
<text x="278.95" y="429.73" font-size="16.80">C</text>
<text x="91.24" y="583.87" font-size="12.70">50</text>
<text x="139.47" y="583.97" font-size="12.70">100</text>
<text x="190.12" y="584.07" font-size="12.70">150</text>
<text x="240.03" y="584.07" font-size="12.70">200</text>
<text x="109.34" y="606.66" font-size="12.70" textLength="129.38" lengthAdjust="spacingAndGlyphs">Fluorescence (FL-1-H)</text>
<text x="71.08" y="21.96" font-size="15.50" style="font-family:NanumGothic,'Liberation Sans',sans-serif">1</text>
<text x="63.34" y="92.30" font-size="16.80">2</text>
<text x="92.83" y="229.66" font-size="15.50" style="font-family:NanumGothic,'Liberation Sans',sans-serif">1</text>
<text x="95.13" y="293.03" font-size="16.80">3</text>
<text x="86.63" y="343.80" font-size="16.80">4</text>
<text x="239.19" y="331.90" font-size="16.80">2</text>
<text x="67.43" y="434.46" font-size="15.50" style="font-family:NanumGothic,'Liberation Sans',sans-serif">1</text>
<text x="49.33" y="511.43" font-size="16.80">3</text>
<text x="219.54" y="426.80" font-size="16.80">2</text>
<text x="235.63" y="548.70" font-size="16.80">4</text>
<text x="310.52" y="117.89" font-size="11.10" font-weight="bold" textLength="40.51" lengthAdjust="spacingAndGlyphs">HUVEC</text>
<text x="310.46" y="140.68" font-size="9.14" style="font-family:NanumGothic,'Liberation Sans',sans-serif">1</text>
<text x="310.30" y="151.30" font-size="9.90">2</text>
<text x="321.83" y="140.70" font-size="9.90" textLength="73.57" lengthAdjust="spacingAndGlyphs">Normal HUVEC</text>
<text x="322.27" y="151.30" font-size="9.90" textLength="83.15" lengthAdjust="spacingAndGlyphs">Apoptotic HUVEC</text>
<text x="309.02" y="298.09" font-size="11.10" font-weight="bold" textLength="47.76" lengthAdjust="spacingAndGlyphs">Platelets</text>
<text x="309.21" y="320.38" font-size="9.14" style="font-family:NanumGothic,'Liberation Sans',sans-serif">1</text>
<text x="308.40" y="331.10" font-size="9.90">2</text>
<text x="308.43" y="341.50" font-size="9.90">3</text>
<text x="308.33" y="351.90" font-size="9.90">4</text>
<text x="320.02" y="320.40" font-size="9.90" textLength="108.25" lengthAdjust="spacingAndGlyphs">Non-activated platelets</text>
<text x="320.87" y="331.10" font-size="9.90" textLength="85.10" lengthAdjust="spacingAndGlyphs">Activated platelets</text>
<text x="320.08" y="341.60" font-size="9.90" textLength="183.54" lengthAdjust="spacingAndGlyphs">Unbound platelets from normal HUVEC</text>
<text x="320.09" y="351.90" font-size="9.90" textLength="193.63" lengthAdjust="spacingAndGlyphs">Unbound platelets from apoptotic HUVEC</text>
<text x="307.51" y="503.39" font-size="11.10" font-weight="bold" textLength="157.57" lengthAdjust="spacingAndGlyphs">HUVEC with bound Platelets</text>
<text x="308.01" y="525.98" font-size="9.14" style="font-family:NanumGothic,'Liberation Sans',sans-serif">1</text>
<text x="307.60" y="536.60" font-size="9.90">2</text>
<text x="307.63" y="546.90" font-size="9.90">3</text>
<text x="307.43" y="557.10" font-size="9.90">4</text>
<text x="318.93" y="526.00" font-size="9.90" textLength="190.33" lengthAdjust="spacingAndGlyphs">Normal HUVEC + non-activated platelets</text>
<text x="318.93" y="536.60" font-size="9.90" textLength="169.95" lengthAdjust="spacingAndGlyphs">Normal HUVEC + activated platelets</text>
<text x="319.77" y="547.00" font-size="9.90" textLength="199.08" lengthAdjust="spacingAndGlyphs">Apoptotic HUVEC + non-activated platelets</text>
<text x="319.77" y="557.10" font-size="9.90" textLength="179.10" lengthAdjust="spacingAndGlyphs">Apoptotic HUVEC + activated platelets</text>
</svg>
</body></html>
